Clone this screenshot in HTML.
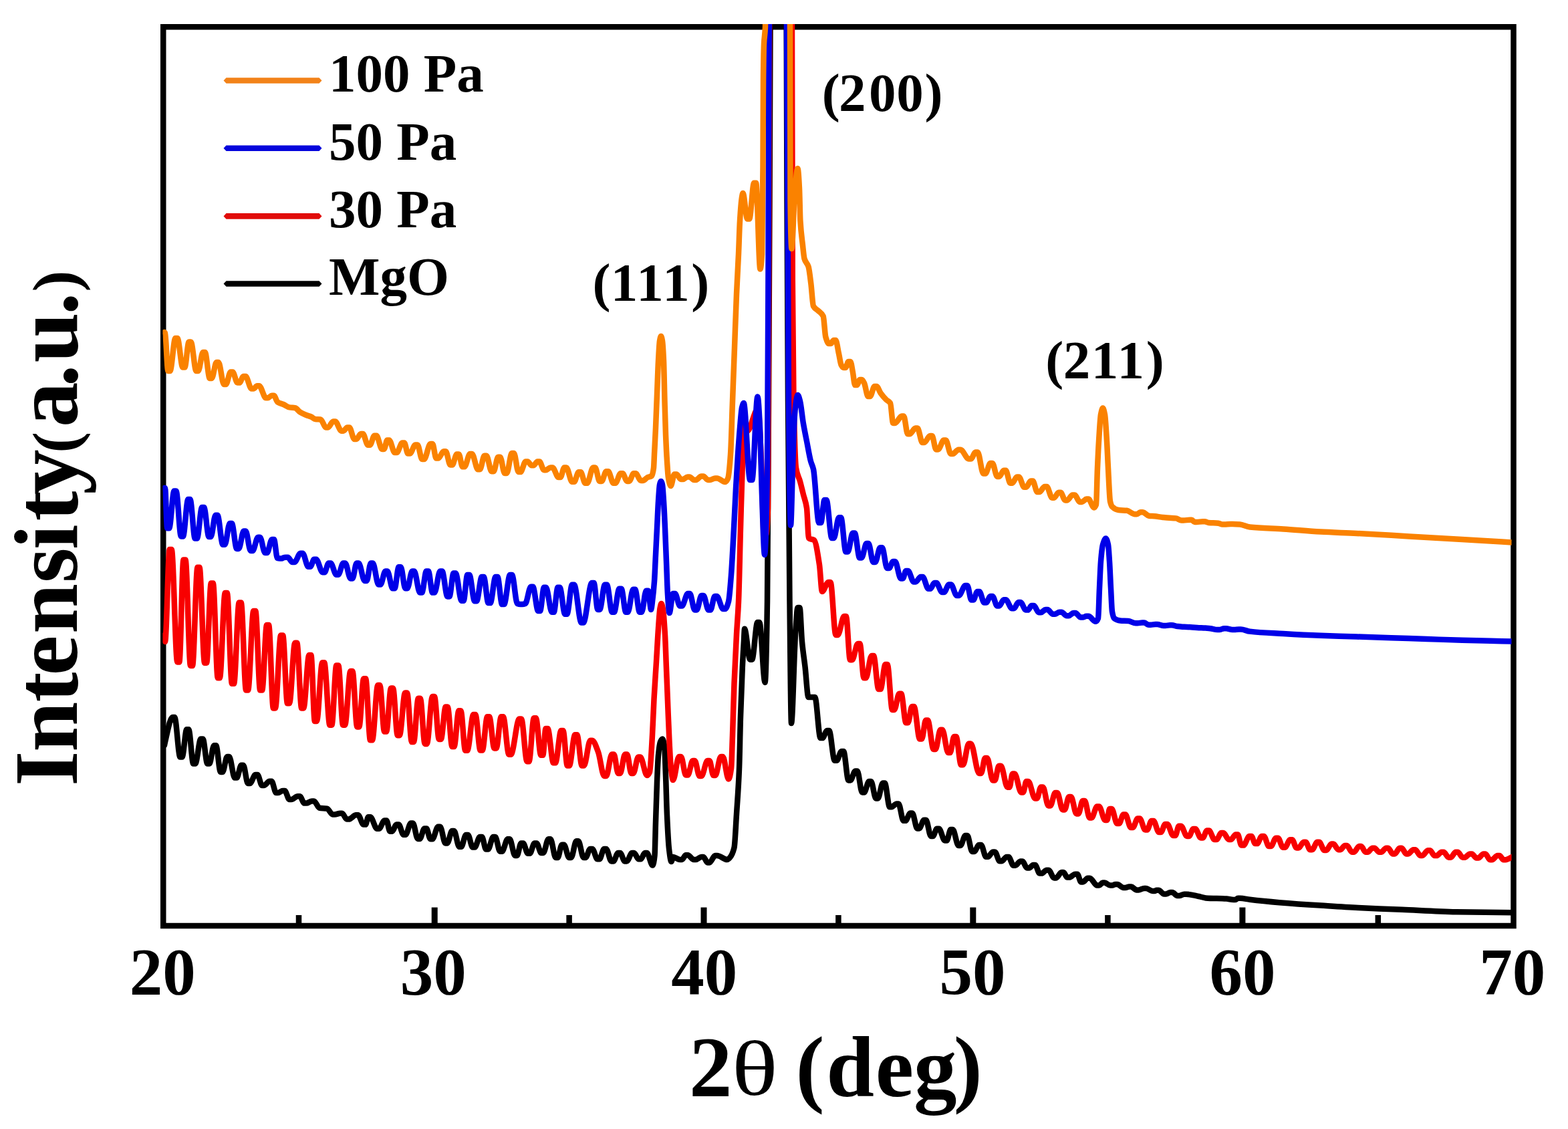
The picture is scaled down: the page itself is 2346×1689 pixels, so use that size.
<!DOCTYPE html>
<html><head><meta charset="utf-8"><title>XRD patterns</title>
<style>
html,body{margin:0;padding:0;background:#fff;overflow:hidden;}
svg{display:block;}
text{font-family:"Liberation Serif","Times New Roman",serif;font-weight:bold;fill:#000;}
</style></head><body>
<svg width="2346" height="1689" viewBox="0 0 2346 1689">
<rect x="0" y="0" width="2346" height="1689" fill="#fff"/>
<defs><clipPath id="plot"><rect x="243.5" y="36" width="2018" height="1353"/></clipPath></defs>
<rect x="244.25" y="40.25" width="2020.25" height="1344.75" fill="none" stroke="#000" stroke-width="8.5"/>
<rect x="645.7" y="1357.5" width="9" height="25" fill="#000"/>
<rect x="1048.5" y="1357.5" width="9" height="25" fill="#000"/>
<rect x="1451.3" y="1357.5" width="9" height="25" fill="#000"/>
<rect x="1854.4" y="1357.5" width="9" height="25" fill="#000"/>
<rect x="442.75" y="1369" width="8.5" height="13" fill="#000"/>
<rect x="847.35" y="1369" width="8.5" height="13" fill="#000"/>
<rect x="1250.15" y="1369" width="8.5" height="13" fill="#000"/>
<rect x="1653.15" y="1369" width="8.5" height="13" fill="#000"/>
<rect x="2057.55" y="1369" width="8.5" height="13" fill="#000"/>
<g clip-path="url(#plot)" fill="none" stroke-linejoin="round" stroke-linecap="round">
<path stroke="#000000" stroke-width="8.5" d="M246.0 1115.0 C246.3 1113.3 246.7 1111.4 247.0 1110.0 C250.7 1094.3 254.5 1073.0 258.2 1073.0 C259.2 1073.0 260.2 1073.0 261.2 1073.0 C264.0 1073.0 266.7 1132.6 269.5 1132.6 C270.5 1132.6 271.5 1132.6 272.5 1132.6 C274.8 1132.6 277.0 1091.3 279.3 1091.3 C280.3 1091.3 281.3 1091.3 282.3 1091.3 C284.6 1091.3 286.9 1142.5 289.2 1142.5 C290.2 1142.5 291.2 1142.5 292.2 1142.5 C295.0 1142.5 297.7 1105.4 300.5 1105.4 C301.5 1105.4 302.5 1105.4 303.5 1105.4 C305.8 1105.4 308.0 1142.5 310.3 1142.5 C311.3 1142.5 312.3 1142.5 313.3 1142.5 C315.6 1142.5 317.9 1115.3 320.2 1115.3 C321.2 1115.3 322.2 1115.3 323.2 1115.3 C325.5 1115.3 327.7 1155.0 330.0 1155.0 C331.0 1155.0 332.0 1155.0 333.0 1155.0 C335.3 1155.0 337.6 1132.0 339.9 1132.0 C340.9 1132.0 341.9 1132.0 342.9 1132.0 C345.7 1132.0 348.4 1163.6 351.2 1163.6 C352.2 1163.6 353.2 1163.6 354.2 1163.6 C356.5 1163.6 358.7 1144.8 361.0 1144.8 C362.0 1144.8 363.0 1144.8 364.0 1144.8 C366.3 1144.8 368.6 1172.0 370.9 1172.0 C371.9 1172.0 372.9 1172.0 373.9 1172.0 C376.7 1172.0 379.4 1159.0 382.2 1159.0 C383.2 1159.0 384.2 1159.0 385.2 1159.0 C387.5 1159.0 389.7 1174.9 392.0 1174.9 C393.0 1174.9 394.0 1174.9 395.0 1174.9 C397.8 1174.9 400.5 1168.8 403.3 1168.8 C404.3 1168.8 405.3 1168.8 406.3 1168.8 C408.6 1168.8 410.8 1186.0 413.1 1186.0 C414.1 1186.0 415.1 1186.0 416.1 1186.0 C418.4 1186.0 420.7 1182.9 423.0 1182.9 C424.0 1182.9 425.0 1182.9 426.0 1182.9 C428.3 1182.9 430.6 1196.0 432.9 1196.0 C433.9 1196.0 434.9 1196.0 435.9 1196.0 C439.1 1196.0 442.3 1191.3 445.5 1191.3 C446.5 1191.3 447.5 1191.3 448.5 1191.3 C450.8 1191.3 453.1 1201.6 455.4 1201.6 C456.4 1201.6 457.4 1201.6 458.4 1201.6 C461.2 1201.6 463.9 1198.4 466.7 1198.4 C467.7 1198.4 468.7 1198.4 469.7 1198.4 C472.5 1198.4 475.2 1208.3 478.0 1208.7 C481.8 1209.3 485.5 1209.0 489.3 1209.6 C492.1 1210.0 494.9 1218.5 497.7 1218.5 C498.7 1218.5 499.7 1218.5 500.7 1218.5 C503.4 1218.5 506.2 1216.7 508.9 1216.7 C509.9 1216.7 510.9 1216.7 511.9 1216.7 C514.2 1216.7 516.5 1225.6 518.8 1225.6 C519.8 1225.6 520.8 1225.6 521.8 1225.6 C525.4 1225.6 529.1 1219.3 532.7 1219.3 C533.7 1219.3 534.7 1219.3 535.7 1219.3 C538.4 1219.3 541.2 1233.6 543.9 1233.6 C544.9 1233.6 545.9 1233.6 546.9 1233.6 C548.3 1233.6 549.6 1222.3 551.0 1222.3 C552.0 1222.3 553.0 1222.3 554.0 1222.3 C557.4 1222.3 560.7 1239.7 564.1 1239.7 C565.1 1239.7 566.1 1239.7 567.1 1239.7 C569.8 1239.7 572.6 1227.4 575.3 1227.4 C576.3 1227.4 577.3 1227.4 578.3 1227.4 C580.0 1227.4 581.7 1243.7 583.4 1243.7 C584.4 1243.7 585.4 1243.7 586.4 1243.7 C588.8 1243.7 591.1 1233.5 593.5 1233.5 C594.5 1233.5 595.5 1233.5 596.5 1233.5 C598.9 1233.5 601.3 1248.8 603.7 1248.8 C604.7 1248.8 605.7 1248.8 606.7 1248.8 C609.4 1248.8 612.1 1231.5 614.8 1231.5 C615.8 1231.5 616.8 1231.5 617.8 1231.5 C620.2 1231.5 622.6 1254.9 625.0 1254.9 C626.0 1254.9 627.0 1254.9 628.0 1254.9 C630.4 1254.9 632.7 1239.6 635.1 1239.6 C636.1 1239.6 637.1 1239.6 638.1 1239.6 C640.0 1239.6 642.0 1255.2 643.9 1255.2 C644.9 1255.2 645.9 1255.2 646.9 1255.2 C649.8 1255.2 652.6 1236.7 655.5 1236.7 C656.5 1236.7 657.5 1236.7 658.5 1236.7 C661.1 1236.7 663.7 1261.4 666.3 1261.4 C667.3 1261.4 668.3 1261.4 669.3 1261.4 C671.6 1261.4 674.0 1242.9 676.3 1242.9 C677.3 1242.9 678.3 1242.9 679.3 1242.9 C681.9 1242.9 684.5 1266.8 687.1 1266.8 C688.1 1266.8 689.1 1266.8 690.1 1266.8 C692.4 1266.8 694.8 1249.0 697.1 1249.0 C698.1 1249.0 699.1 1249.0 700.1 1249.0 C702.5 1249.0 704.8 1267.6 707.2 1267.6 C708.2 1267.6 709.2 1267.6 710.2 1267.6 C712.8 1267.6 715.4 1252.0 718.0 1252.0 C719.0 1252.0 720.0 1252.0 721.0 1252.0 C723.1 1252.0 725.1 1270.6 727.2 1270.6 C728.2 1270.6 729.2 1270.6 730.2 1270.6 C732.8 1270.6 735.4 1252.0 738.0 1252.0 C739.0 1252.0 740.0 1252.0 741.0 1252.0 C743.4 1252.0 745.7 1273.7 748.1 1273.7 C749.1 1273.7 750.1 1273.7 751.1 1273.7 C753.9 1273.7 756.8 1255.2 759.6 1255.2 C760.6 1255.2 761.6 1255.2 762.6 1255.2 C765.2 1255.2 767.9 1279.9 770.5 1279.9 C771.5 1279.9 772.5 1279.9 773.5 1279.9 C775.6 1279.9 777.6 1261.4 779.7 1261.4 C780.7 1261.4 781.7 1261.4 782.7 1261.4 C785.0 1261.4 787.4 1276.8 789.7 1276.8 C790.7 1276.8 791.7 1276.8 792.7 1276.8 C795.1 1276.8 797.4 1261.4 799.8 1261.4 C800.8 1261.4 801.8 1261.4 802.8 1261.4 C805.1 1261.4 807.5 1276.0 809.8 1276.0 C810.8 1276.0 811.8 1276.0 812.8 1276.0 C815.4 1276.0 818.0 1255.2 820.6 1255.2 C821.6 1255.2 822.6 1255.2 823.6 1255.2 C826.2 1255.2 828.8 1283.0 831.4 1283.0 C832.4 1283.0 833.4 1283.0 834.4 1283.0 C836.5 1283.0 838.6 1263.7 840.7 1263.7 C841.7 1263.7 842.7 1263.7 843.7 1263.7 C846.3 1263.7 848.9 1283.0 851.5 1283.0 C852.5 1283.0 853.5 1283.0 854.5 1283.0 C857.1 1283.0 859.7 1258.3 862.3 1258.3 C863.3 1258.3 864.3 1258.3 865.3 1258.3 C867.9 1258.3 870.5 1283.0 873.1 1283.0 C874.1 1283.0 875.1 1283.0 876.1 1283.0 C878.4 1283.0 880.8 1269.9 883.1 1269.9 C884.1 1269.9 885.1 1269.9 886.1 1269.9 C888.7 1269.9 891.3 1285.3 893.9 1285.3 C894.9 1285.3 895.9 1285.3 896.9 1285.3 C899.2 1285.3 901.6 1269.9 903.9 1269.9 C904.9 1269.9 905.9 1269.9 906.9 1269.9 C909.5 1269.9 912.1 1288.4 914.7 1288.4 C915.7 1288.4 916.7 1288.4 917.7 1288.4 C920.1 1288.4 922.4 1276.1 924.8 1276.1 C925.8 1276.1 926.8 1276.1 927.8 1276.1 C930.1 1276.1 932.5 1288.4 934.8 1288.4 C935.8 1288.4 936.8 1288.4 937.8 1288.4 C940.4 1288.4 943.0 1276.1 945.6 1276.1 C946.6 1276.1 947.6 1276.1 948.6 1276.1 C950.9 1276.1 953.3 1285.3 955.6 1285.3 C956.6 1285.3 957.6 1285.3 958.6 1285.3 C960.7 1285.3 962.8 1276.1 964.9 1276.1 C965.9 1276.1 966.9 1276.1 967.9 1276.1 C970.7 1276.1 973.6 1294.6 976.4 1294.6 C977.4 1294.6 978.5 1289.3 979.5 1280.0 C980.0 1275.5 980.5 1245.8 981.0 1230.0 C981.7 1208.9 982.3 1186.0 983.0 1170.0 C983.7 1154.0 984.3 1136.9 985.0 1130.0 C986.0 1119.7 987.0 1112.4 988.0 1110.0 C989.0 1107.6 990.0 1105.6 991.0 1105.6 C992.0 1105.6 993.0 1109.2 994.0 1115.0 C994.7 1118.9 995.3 1142.9 996.0 1160.0 C996.7 1177.1 997.3 1205.4 998.0 1220.0 C999.0 1241.8 1000.0 1261.5 1001.0 1270.0 C1002.1 1279.6 1003.3 1289.0 1004.4 1289.0 C1005.3 1289.0 1006.1 1282.0 1007.0 1282.0 C1010.4 1282.0 1013.9 1286.0 1017.3 1286.0 C1018.3 1286.0 1019.3 1286.0 1020.3 1286.0 C1022.2 1286.0 1024.2 1279.3 1026.1 1279.3 C1027.1 1279.3 1028.1 1279.3 1029.1 1279.3 C1032.0 1279.3 1035.0 1286.0 1037.9 1286.0 C1038.9 1286.0 1039.9 1286.0 1040.9 1286.0 C1043.8 1286.0 1046.6 1282.0 1049.5 1282.0 C1050.5 1282.0 1051.5 1282.0 1052.5 1282.0 C1054.5 1282.0 1056.5 1290.4 1058.5 1290.4 C1059.5 1290.4 1060.5 1290.4 1061.5 1290.4 C1064.3 1290.4 1067.2 1280.0 1070.0 1280.0 C1071.0 1280.0 1072.0 1280.0 1073.0 1280.0 C1078.0 1280.0 1083.0 1286.0 1088.0 1286.0 C1089.3 1286.0 1090.7 1284.5 1092.0 1283.0 C1094.2 1280.6 1096.3 1277.3 1098.5 1268.0 C1099.7 1263.0 1100.8 1236.1 1102.0 1218.0 C1103.3 1197.3 1104.7 1183.0 1106.0 1150.0 C1106.7 1133.5 1107.3 1093.2 1108.0 1072.0 C1108.9 1042.3 1109.9 1018.0 1110.8 998.0 C1111.5 982.3 1112.3 970.9 1113.0 958.0 C1113.3 952.1 1113.7 940.8 1114.0 940.8 C1116.7 940.8 1119.5 986.7 1122.2 986.7 C1123.2 986.7 1124.2 986.7 1125.2 986.7 C1127.9 986.7 1130.6 931.0 1133.3 931.0 C1134.3 931.0 1135.3 931.0 1136.3 931.0 C1139.1 931.0 1141.8 1021.0 1144.6 1021.0 C1145.7 1021.0 1146.9 968.9 1148.0 900.0 C1148.7 859.5 1149.3 715.1 1150.0 600.0 C1150.5 513.7 1151.0 414.0 1151.5 300.0 C1151.8 224.0 1152.2 114.3 1152.5 40.0 C1152.7 2.9 1152.8 -60.0 1153.0 -60.0 C1160.8 -60.0 1168.7 -60.0 1176.5 -60.0 C1176.6 -60.0 1176.6 12.6 1176.7 40.0 C1177.0 149.7 1177.2 232.3 1177.5 300.0 C1178.0 426.9 1178.5 523.4 1179.0 600.0 C1179.8 727.7 1180.7 824.5 1181.5 900.0 C1182.3 975.5 1183.2 1082.0 1184.0 1082.0 C1186.0 1082.0 1188.0 979.8 1190.0 950.0 C1191.2 932.6 1192.3 909.0 1193.5 909.0 C1194.5 909.0 1195.5 909.0 1196.5 909.0 C1197.7 909.0 1198.8 947.5 1200.0 960.0 C1201.5 976.4 1203.1 984.7 1204.6 998.0 C1206.2 1012.2 1207.9 1043.0 1209.5 1043.0 C1212.8 1043.0 1216.0 1043.0 1219.3 1043.0 C1222.0 1043.0 1224.8 1104.0 1227.5 1104.0 C1228.5 1104.0 1229.5 1104.0 1230.5 1104.0 C1232.8 1104.0 1235.2 1093.0 1237.5 1093.0 C1238.5 1093.0 1239.5 1093.0 1240.5 1093.0 C1243.3 1093.0 1246.0 1137.8 1248.8 1137.8 C1249.8 1137.8 1250.8 1137.8 1251.8 1137.8 C1254.2 1137.8 1256.7 1124.0 1259.1 1124.0 C1260.1 1124.0 1261.1 1124.0 1262.1 1124.0 C1264.5 1124.0 1267.0 1167.4 1269.4 1167.4 C1270.4 1167.4 1271.4 1167.4 1272.4 1167.4 C1274.8 1167.4 1277.3 1153.5 1279.7 1153.5 C1280.7 1153.5 1281.7 1153.5 1282.7 1153.5 C1285.1 1153.5 1287.5 1185.4 1289.9 1185.4 C1290.9 1185.4 1291.9 1185.4 1292.9 1185.4 C1295.3 1185.4 1297.8 1169.0 1300.2 1169.0 C1301.2 1169.0 1302.2 1169.0 1303.2 1169.0 C1305.6 1169.0 1308.1 1194.4 1310.5 1194.4 C1311.5 1194.4 1312.5 1194.4 1313.5 1194.4 C1315.9 1194.4 1318.4 1171.5 1320.8 1171.5 C1321.8 1171.5 1322.8 1171.5 1323.8 1171.5 C1326.2 1171.5 1328.7 1207.3 1331.1 1207.3 C1332.1 1207.3 1333.1 1207.3 1334.1 1207.3 C1336.5 1207.3 1339.0 1202.4 1341.4 1202.4 C1342.4 1202.4 1343.4 1202.4 1344.4 1202.4 C1346.8 1202.4 1349.3 1227.8 1351.7 1227.8 C1352.7 1227.8 1353.7 1227.8 1354.7 1227.8 C1357.1 1227.8 1359.6 1216.5 1362.0 1216.5 C1363.0 1216.5 1364.0 1216.5 1365.0 1216.5 C1367.4 1216.5 1369.9 1239.4 1372.3 1239.4 C1373.3 1239.4 1374.3 1239.4 1375.3 1239.4 C1377.7 1239.4 1380.1 1226.8 1382.5 1226.8 C1383.5 1226.8 1384.5 1226.8 1385.5 1226.8 C1387.9 1226.8 1390.4 1251.0 1392.8 1251.0 C1393.8 1251.0 1394.8 1251.0 1395.8 1251.0 C1397.8 1251.0 1399.8 1239.7 1401.8 1239.7 C1402.8 1239.7 1403.8 1239.7 1404.8 1239.7 C1407.7 1239.7 1410.6 1257.4 1413.5 1257.4 C1414.5 1257.4 1415.5 1257.4 1416.5 1257.4 C1418.5 1257.4 1420.5 1241.0 1422.5 1241.0 C1423.5 1241.0 1424.5 1241.0 1425.5 1241.0 C1428.3 1241.0 1431.2 1265.0 1434.0 1265.0 C1435.0 1265.0 1436.0 1265.0 1437.0 1265.0 C1439.4 1265.0 1441.9 1250.0 1444.3 1250.0 C1445.3 1250.0 1446.3 1250.0 1447.3 1250.0 C1449.7 1250.0 1452.1 1274.0 1454.5 1274.0 C1455.5 1274.0 1456.5 1274.0 1457.5 1274.0 C1460.0 1274.0 1462.4 1264.0 1464.9 1264.0 C1465.9 1264.0 1466.9 1264.0 1467.9 1264.0 C1470.3 1264.0 1472.8 1281.8 1475.2 1281.8 C1476.2 1281.8 1477.2 1281.8 1478.2 1281.8 C1480.6 1281.8 1483.1 1274.4 1485.5 1274.4 C1486.5 1274.4 1487.5 1274.4 1488.5 1274.4 C1490.9 1274.4 1493.3 1288.3 1495.7 1288.3 C1496.7 1288.3 1497.7 1288.3 1498.7 1288.3 C1501.1 1288.3 1503.6 1282.0 1506.0 1282.0 C1507.0 1282.0 1508.0 1282.0 1509.0 1282.0 C1511.4 1282.0 1513.9 1294.7 1516.3 1294.7 C1517.3 1294.7 1518.3 1294.7 1519.3 1294.7 C1521.7 1294.7 1524.1 1288.6 1526.5 1288.6 C1527.5 1288.6 1528.5 1288.6 1529.5 1288.6 C1532.0 1288.6 1534.4 1298.6 1536.9 1298.6 C1537.9 1298.6 1538.9 1298.6 1539.9 1298.6 C1541.8 1298.6 1543.8 1294.0 1545.7 1294.0 C1546.7 1294.0 1547.7 1294.0 1548.7 1294.0 C1551.0 1294.0 1553.2 1306.6 1555.5 1306.6 C1556.5 1306.6 1557.5 1306.6 1558.5 1306.6 C1561.0 1306.6 1563.4 1301.7 1565.9 1301.7 C1566.9 1301.7 1567.9 1301.7 1568.9 1301.7 C1571.6 1301.7 1574.4 1313.4 1577.1 1313.4 C1578.1 1313.4 1579.1 1313.4 1580.1 1313.4 C1582.8 1313.4 1585.5 1305.0 1588.2 1305.0 C1589.2 1305.0 1590.2 1305.0 1591.2 1305.0 C1593.1 1305.0 1594.9 1312.6 1596.8 1312.6 C1597.8 1312.6 1598.8 1312.6 1599.8 1312.6 C1602.8 1312.6 1605.8 1307.7 1608.8 1307.7 C1609.8 1307.7 1610.8 1307.7 1611.8 1307.7 C1613.7 1307.7 1615.5 1319.4 1617.4 1319.4 C1618.4 1319.4 1619.4 1319.4 1620.4 1319.4 C1622.8 1319.4 1625.1 1313.7 1627.5 1313.7 C1628.5 1313.7 1629.5 1313.7 1630.5 1313.7 C1634.1 1313.7 1637.8 1324.6 1641.4 1324.6 C1642.4 1324.6 1643.4 1324.6 1644.4 1324.6 C1646.2 1324.6 1648.1 1320.6 1649.9 1320.6 C1650.9 1320.6 1651.9 1320.6 1652.9 1320.6 C1655.6 1320.6 1658.4 1324.6 1661.1 1324.6 C1662.1 1324.6 1663.1 1324.6 1664.1 1324.6 C1665.7 1324.6 1667.2 1323.0 1668.8 1323.0 C1669.8 1323.0 1670.8 1323.0 1671.8 1323.0 C1674.8 1323.0 1677.8 1328.0 1680.8 1328.0 C1681.8 1328.0 1682.8 1328.0 1683.8 1328.0 C1685.7 1328.0 1687.5 1326.6 1689.4 1326.6 C1690.4 1326.6 1691.4 1326.6 1692.4 1326.6 C1695.1 1326.6 1697.8 1331.4 1700.5 1331.4 C1701.5 1331.4 1702.5 1331.4 1703.5 1331.4 C1706.2 1331.4 1709.0 1329.0 1711.7 1329.0 C1712.7 1329.0 1713.7 1329.0 1714.7 1329.0 C1718.0 1329.0 1721.2 1333.0 1724.5 1333.0 C1725.5 1333.0 1726.5 1333.0 1727.5 1333.0 C1728.5 1333.0 1729.5 1331.7 1730.5 1331.7 C1731.5 1331.7 1732.5 1331.7 1733.5 1331.7 C1736.2 1331.7 1738.9 1337.4 1741.6 1337.4 C1742.6 1337.4 1743.6 1337.4 1744.6 1337.4 C1746.8 1337.4 1748.9 1335.0 1751.1 1335.0 C1752.1 1335.0 1753.1 1335.0 1754.1 1335.0 C1756.5 1335.0 1759.0 1340.0 1761.4 1340.0 C1762.4 1340.0 1763.4 1340.0 1764.4 1340.0 C1766.8 1340.0 1769.3 1337.7 1771.7 1337.7 C1772.7 1337.7 1773.7 1337.7 1774.7 1337.7 C1781.0 1337.7 1787.4 1339.7 1793.7 1341.0 C1797.1 1341.7 1800.6 1343.1 1804.0 1343.4 C1814.3 1344.2 1824.6 1343.9 1834.9 1344.6 C1838.4 1344.8 1841.9 1346.0 1845.4 1346.0 C1846.4 1346.0 1847.4 1346.0 1848.4 1346.0 C1849.7 1346.0 1850.9 1343.7 1852.2 1343.7 C1853.2 1343.7 1854.2 1343.7 1855.2 1343.7 C1860.1 1343.7 1865.1 1345.2 1870.0 1345.8 C1884.7 1347.6 1899.3 1349.0 1914.0 1350.2 C1934.6 1351.9 1955.2 1353.3 1975.8 1354.6 C1994.6 1355.8 2013.5 1357.1 2032.3 1358.0 C2054.0 1359.1 2075.8 1359.9 2097.5 1360.8 C2124.5 1362.0 2151.6 1363.8 2178.6 1364.3 C2207.1 1364.8 2235.5 1364.9 2264.0 1365.2"/>
<path stroke="#F80000" stroke-width="8.5" d="M246.0 950.0 C246.3 953.3 246.7 960.0 247.0 960.0 C249.2 960.0 251.5 822.0 253.7 822.0 C254.7 822.0 255.7 822.0 256.7 822.0 C259.6 822.0 262.4 990.4 265.3 990.4 C266.3 990.4 267.3 990.4 268.3 990.4 C270.4 990.4 272.4 837.5 274.5 837.5 C275.5 837.5 276.5 837.5 277.5 837.5 C280.0 837.5 282.5 996.0 285.0 996.0 C286.0 996.0 287.0 996.0 288.0 996.0 C290.5 996.0 293.0 848.8 295.5 848.8 C296.5 848.8 297.5 848.8 298.5 848.8 C301.0 848.8 303.6 991.8 306.1 991.8 C307.1 991.8 308.1 991.8 309.1 991.8 C311.3 991.8 313.6 872.5 315.8 872.5 C316.8 872.5 317.8 872.5 318.8 872.5 C321.1 872.5 323.5 1014.3 325.8 1014.3 C326.8 1014.3 327.8 1014.3 328.8 1014.3 C331.5 1014.3 334.1 887.0 336.8 887.0 C337.8 887.0 338.8 887.0 339.8 887.0 C342.2 887.0 344.6 1022.8 347.0 1022.8 C348.0 1022.8 349.0 1022.8 350.0 1022.8 C352.6 1022.8 355.1 901.5 357.7 901.5 C358.7 901.5 359.7 901.5 360.7 901.5 C363.2 901.5 365.6 1032.6 368.1 1032.6 C369.1 1032.6 370.1 1032.6 371.1 1032.6 C373.8 1032.6 376.6 913.9 379.3 913.9 C380.3 913.9 381.3 913.9 382.3 913.9 C384.6 913.9 386.9 1032.6 389.2 1032.6 C390.2 1032.6 391.2 1032.6 392.2 1032.6 C394.5 1032.6 396.8 935.0 399.1 935.0 C400.1 935.0 401.1 935.0 402.1 935.0 C404.4 935.0 406.6 1059.4 408.9 1059.4 C409.9 1059.4 410.9 1059.4 411.9 1059.4 C414.7 1059.4 417.4 950.5 420.2 950.5 C421.2 950.5 422.2 950.5 423.2 950.5 C425.5 950.5 427.7 1052.3 430.0 1052.3 C431.0 1052.3 432.0 1052.3 433.0 1052.3 C435.8 1052.3 438.5 961.7 441.3 961.7 C442.3 961.7 443.3 961.7 444.3 961.7 C446.6 961.7 448.9 1059.4 451.2 1059.4 C452.2 1059.4 453.2 1059.4 454.2 1059.4 C456.9 1059.4 459.7 980.0 462.4 980.0 C463.4 980.0 464.4 980.0 465.4 980.0 C467.2 980.0 469.1 1079.0 470.9 1079.0 C471.9 1079.0 472.9 1079.0 473.9 1079.0 C476.7 1079.0 479.4 991.3 482.2 991.3 C483.2 991.3 484.2 991.3 485.2 991.3 C487.9 991.3 490.7 1084.7 493.4 1084.7 C494.4 1084.7 495.4 1084.7 496.4 1084.7 C498.7 1084.7 501.0 995.5 503.3 995.5 C504.3 995.5 505.3 995.5 506.3 995.5 C508.6 995.5 510.8 1084.7 513.1 1084.7 C514.1 1084.7 515.1 1084.7 516.1 1084.7 C518.9 1084.7 521.6 1004.0 524.4 1004.0 C525.4 1004.0 526.4 1004.0 527.4 1004.0 C529.7 1004.0 532.0 1087.5 534.3 1087.5 C535.3 1087.5 536.3 1087.5 537.3 1087.5 C539.6 1087.5 541.8 1015.3 544.1 1015.3 C545.1 1015.3 546.1 1015.3 547.1 1015.3 C549.4 1015.3 551.7 1107.3 554.0 1107.3 C555.0 1107.3 556.0 1107.3 557.0 1107.3 C559.8 1107.3 562.5 1025.0 565.3 1025.0 C566.3 1025.0 567.3 1025.0 568.3 1025.0 C570.6 1025.0 572.8 1094.6 575.1 1094.6 C576.1 1094.6 577.1 1094.6 578.1 1094.6 C580.4 1094.6 582.7 1029.4 585.0 1029.4 C586.0 1029.4 587.0 1029.4 588.0 1029.4 C590.3 1029.4 592.5 1100.2 594.8 1100.2 C595.8 1100.2 596.8 1100.2 597.8 1100.2 C600.6 1100.2 603.3 1036.4 606.1 1036.4 C607.1 1036.4 608.1 1036.4 609.1 1036.4 C611.4 1036.4 613.7 1110.0 616.0 1110.0 C617.0 1110.0 618.0 1110.0 619.0 1110.0 C621.3 1110.0 623.5 1044.8 625.8 1044.8 C626.8 1044.8 627.8 1044.8 628.8 1044.8 C631.1 1044.8 633.4 1112.9 635.7 1112.9 C636.7 1112.9 637.7 1112.9 638.7 1112.9 C641.5 1112.9 644.2 1042.0 647.0 1042.0 C648.0 1042.0 649.0 1042.0 650.0 1042.0 C652.3 1042.0 654.5 1105.9 656.8 1105.9 C657.8 1105.9 658.8 1105.9 659.8 1105.9 C662.1 1105.9 664.4 1057.5 666.7 1057.5 C667.7 1057.5 668.7 1057.5 669.7 1057.5 C672.0 1057.5 674.2 1117.0 676.5 1117.0 C677.5 1117.0 678.5 1117.0 679.5 1117.0 C681.8 1117.0 684.1 1063.2 686.4 1063.2 C687.4 1063.2 688.4 1063.2 689.4 1063.2 C691.7 1063.2 693.9 1122.8 696.2 1122.8 C697.2 1122.8 698.2 1122.8 699.2 1122.8 C702.2 1122.8 705.3 1069.0 708.3 1069.0 C709.3 1069.0 710.3 1069.0 711.3 1069.0 C713.8 1069.0 716.2 1122.6 718.7 1122.6 C719.7 1122.6 720.7 1122.6 721.7 1122.6 C724.2 1122.6 726.6 1072.3 729.1 1072.3 C730.1 1072.3 731.1 1072.3 732.1 1072.3 C734.6 1072.3 737.0 1119.4 739.5 1119.4 C740.5 1119.4 741.5 1119.4 742.5 1119.4 C745.0 1119.4 747.4 1072.3 749.9 1072.3 C750.9 1072.3 751.9 1072.3 752.9 1072.3 C755.7 1072.3 758.6 1128.8 761.4 1128.8 C762.4 1128.8 763.4 1128.8 764.4 1128.8 C768.6 1128.8 772.8 1075.4 777.0 1075.4 C778.0 1075.4 779.0 1075.4 780.0 1075.4 C782.8 1075.4 785.7 1139.2 788.5 1139.2 C789.5 1139.2 790.5 1139.2 791.5 1139.2 C793.9 1139.2 796.4 1074.3 798.8 1074.3 C799.8 1074.3 800.8 1074.3 801.8 1074.3 C804.3 1074.3 806.8 1129.8 809.3 1129.8 C810.3 1129.8 811.3 1129.8 812.3 1129.8 C813.7 1129.8 815.1 1090.0 816.5 1090.0 C817.5 1090.0 818.5 1090.0 819.5 1090.0 C822.3 1090.0 825.2 1141.3 828.0 1141.3 C829.0 1141.3 830.0 1141.3 831.0 1141.3 C833.8 1141.3 836.7 1093.0 839.5 1093.0 C840.5 1093.0 841.5 1093.0 842.5 1093.0 C844.6 1093.0 846.7 1145.5 848.8 1145.5 C849.8 1145.5 850.8 1145.5 851.8 1145.5 C854.6 1145.5 857.5 1099.3 860.3 1099.3 C861.3 1099.3 862.3 1099.3 863.3 1099.3 C865.8 1099.3 868.2 1145.5 870.7 1145.5 C871.7 1145.5 872.7 1145.5 873.7 1145.5 C876.9 1145.5 880.0 1107.7 883.2 1107.7 C884.2 1107.7 885.2 1107.7 886.2 1107.7 C889.1 1107.7 892.1 1117.3 895.0 1125.0 C898.0 1132.9 901.0 1161.0 904.0 1161.0 C905.0 1161.0 906.0 1161.0 907.0 1161.0 C909.8 1161.0 912.7 1128.5 915.5 1128.5 C916.5 1128.5 917.5 1128.5 918.5 1128.5 C920.6 1128.5 922.7 1157.0 924.8 1157.0 C925.8 1157.0 926.8 1157.0 927.8 1157.0 C930.3 1157.0 932.7 1128.5 935.2 1128.5 C936.2 1128.5 937.2 1128.5 938.2 1128.5 C940.3 1128.5 942.4 1157.0 944.5 1157.0 C945.5 1157.0 946.5 1157.0 947.5 1157.0 C950.0 1157.0 952.5 1132.6 955.0 1132.6 C956.0 1132.6 957.0 1132.6 958.0 1132.6 C961.3 1132.6 964.7 1160.0 968.0 1160.0 C969.3 1160.0 970.7 1158.1 972.0 1155.0 C973.3 1151.9 974.7 1122.8 976.0 1100.0 C976.8 1085.8 977.7 1061.4 978.5 1046.0 C979.7 1024.4 980.8 1009.1 982.0 990.0 C983.0 973.7 984.0 953.9 985.0 940.0 C985.8 928.4 986.7 914.4 987.5 910.0 C988.2 906.5 988.8 903.0 989.5 903.0 C990.3 903.0 991.2 907.4 992.0 912.0 C993.0 917.5 994.0 932.8 995.0 950.0 C995.7 961.5 996.3 983.3 997.0 1000.0 C997.7 1016.7 998.3 1033.7 999.0 1050.0 C999.8 1070.4 1000.7 1094.0 1001.5 1110.0 C1002.3 1126.0 1003.2 1142.9 1004.0 1150.0 C1005.0 1158.5 1006.0 1167.0 1007.0 1167.0 C1010.0 1167.0 1012.9 1132.0 1015.9 1132.0 C1016.9 1132.0 1017.9 1132.0 1018.9 1132.0 C1021.3 1132.0 1023.7 1159.5 1026.1 1159.5 C1027.1 1159.5 1028.1 1159.5 1029.1 1159.5 C1031.6 1159.5 1034.0 1138.0 1036.5 1138.0 C1037.5 1138.0 1038.5 1138.0 1039.5 1138.0 C1041.8 1138.0 1044.2 1161.0 1046.5 1161.0 C1047.5 1161.0 1048.5 1161.0 1049.5 1161.0 C1052.5 1161.0 1055.5 1138.0 1058.5 1138.0 C1059.5 1138.0 1060.5 1138.0 1061.5 1138.0 C1063.4 1138.0 1065.4 1160.0 1067.3 1160.0 C1068.3 1160.0 1069.3 1160.0 1070.3 1160.0 C1073.0 1160.0 1075.8 1132.0 1078.5 1132.0 C1079.5 1132.0 1080.5 1132.0 1081.5 1132.0 C1084.3 1132.0 1087.2 1165.5 1090.0 1165.5 C1091.3 1165.5 1092.7 1159.7 1094.0 1150.0 C1094.7 1145.1 1095.3 1118.4 1096.0 1100.0 C1096.8 1077.0 1097.7 1043.1 1098.5 1022.0 C1099.7 992.5 1100.8 970.3 1102.0 949.0 C1103.0 930.7 1104.0 922.6 1105.0 900.0 C1106.0 877.4 1107.0 824.9 1108.0 790.0 C1109.0 755.1 1110.0 713.7 1111.0 690.0 C1112.0 666.3 1113.0 635.0 1114.0 635.0 C1115.3 635.0 1116.7 645.0 1118.0 645.0 C1119.3 645.0 1120.7 642.3 1122.0 640.0 C1123.7 637.1 1125.3 629.2 1127.0 625.0 C1128.5 621.2 1130.0 615.0 1131.5 615.0 C1132.5 615.0 1133.5 615.0 1134.5 615.0 C1136.0 615.0 1137.5 658.7 1139.0 690.0 C1140.3 717.8 1141.7 800.0 1143.0 800.0 C1144.0 800.0 1145.0 800.0 1146.0 800.0 C1147.0 800.0 1148.0 788.5 1149.0 760.0 C1149.5 745.8 1150.0 466.5 1150.5 300.0 C1150.8 189.0 1151.2 -60.0 1151.5 -60.0 C1162.5 -60.0 1173.5 -60.0 1184.5 -60.0 C1184.7 -60.0 1184.8 -5.5 1185.0 40.0 C1185.3 112.8 1185.5 370.0 1185.8 420.0 C1186.4 526.2 1186.9 572.7 1187.5 600.0 C1188.7 656.2 1189.8 692.5 1191.0 700.0 C1193.0 712.8 1195.0 712.7 1197.0 720.0 C1198.7 726.1 1200.3 733.3 1202.0 740.0 C1203.7 746.7 1205.3 748.9 1207.0 760.0 C1208.0 766.6 1209.0 804.1 1210.0 805.0 C1212.7 807.3 1215.3 806.1 1218.0 808.0 C1220.7 809.9 1223.3 827.4 1226.0 845.0 C1227.3 853.8 1228.7 885.0 1230.0 885.0 C1233.2 885.0 1236.3 871.0 1239.5 871.0 C1240.5 871.0 1241.5 871.0 1242.5 871.0 C1245.2 871.0 1247.8 950.0 1250.5 950.0 C1251.5 950.0 1252.5 950.0 1253.5 950.0 C1256.6 950.0 1259.8 922.0 1262.9 922.0 C1263.9 922.0 1264.9 922.0 1265.9 922.0 C1267.9 922.0 1269.9 987.3 1271.9 987.3 C1272.9 987.3 1273.9 987.3 1274.9 987.3 C1277.8 987.3 1280.6 963.0 1283.5 963.0 C1284.5 963.0 1285.5 963.0 1286.5 963.0 C1288.5 963.0 1290.5 1014.3 1292.5 1014.3 C1293.5 1014.3 1294.5 1014.3 1295.5 1014.3 C1298.4 1014.3 1301.2 981.0 1304.1 981.0 C1305.1 981.0 1306.1 981.0 1307.1 981.0 C1309.5 981.0 1312.0 1031.0 1314.4 1031.0 C1315.4 1031.0 1316.4 1031.0 1317.4 1031.0 C1319.8 1031.0 1322.3 994.0 1324.7 994.0 C1325.7 994.0 1326.7 994.0 1327.7 994.0 C1330.1 994.0 1332.6 1062.0 1335.0 1062.0 C1336.0 1062.0 1337.0 1062.0 1338.0 1062.0 C1340.4 1062.0 1342.9 1037.8 1345.3 1037.8 C1346.3 1037.8 1347.3 1037.8 1348.3 1037.8 C1350.7 1037.8 1353.1 1081.2 1355.5 1081.2 C1356.5 1081.2 1357.5 1081.2 1358.5 1081.2 C1360.5 1081.2 1362.5 1057.0 1364.5 1057.0 C1365.5 1057.0 1366.5 1057.0 1367.5 1057.0 C1370.4 1057.0 1373.2 1105.6 1376.1 1105.6 C1377.1 1105.6 1378.1 1105.6 1379.1 1105.6 C1381.1 1105.6 1383.1 1077.6 1385.1 1077.6 C1386.1 1077.6 1387.1 1077.6 1388.1 1077.6 C1391.0 1077.6 1393.8 1121.0 1396.7 1121.0 C1397.7 1121.0 1398.7 1121.0 1399.7 1121.0 C1402.1 1121.0 1404.6 1091.8 1407.0 1091.8 C1408.0 1091.8 1409.0 1091.8 1410.0 1091.8 C1412.8 1091.8 1415.7 1126.0 1418.5 1126.0 C1419.5 1126.0 1420.5 1126.0 1421.5 1126.0 C1423.5 1126.0 1425.5 1102.0 1427.5 1102.0 C1428.5 1102.0 1429.5 1102.0 1430.5 1102.0 C1433.0 1102.0 1435.4 1144.2 1437.9 1144.2 C1438.9 1144.2 1439.9 1144.2 1440.9 1144.2 C1443.8 1144.2 1446.6 1112.4 1449.5 1112.4 C1450.5 1112.4 1451.5 1112.4 1452.5 1112.4 C1456.6 1112.4 1460.8 1157.0 1464.9 1157.0 C1465.9 1157.0 1466.9 1157.0 1467.9 1157.0 C1469.9 1157.0 1471.9 1134.0 1473.9 1134.0 C1474.9 1134.0 1475.9 1134.0 1476.9 1134.0 C1479.8 1134.0 1482.6 1167.4 1485.5 1167.4 C1486.5 1167.4 1487.5 1167.4 1488.5 1167.4 C1490.5 1167.4 1492.5 1145.8 1494.5 1145.8 C1495.5 1145.8 1496.5 1145.8 1497.5 1145.8 C1500.8 1145.8 1504.0 1177.7 1507.3 1177.7 C1508.3 1177.7 1509.3 1177.7 1510.3 1177.7 C1511.9 1177.7 1513.4 1157.4 1515.0 1157.4 C1516.0 1157.4 1517.0 1157.4 1518.0 1157.4 C1521.3 1157.4 1524.6 1185.4 1527.9 1185.4 C1528.9 1185.4 1529.9 1185.4 1530.9 1185.4 C1532.4 1185.4 1534.0 1169.0 1535.5 1169.0 C1536.5 1169.0 1537.5 1169.0 1538.5 1169.0 C1541.8 1169.0 1545.2 1194.4 1548.5 1194.4 C1549.5 1194.4 1550.5 1194.4 1551.5 1194.4 C1553.5 1194.4 1555.4 1177.4 1557.4 1177.4 C1558.4 1177.4 1559.4 1177.4 1560.4 1177.4 C1563.1 1177.4 1565.8 1205.4 1568.5 1205.4 C1569.5 1205.4 1570.5 1205.4 1571.5 1205.4 C1573.9 1205.4 1576.4 1186.0 1578.8 1186.0 C1579.8 1186.0 1580.8 1186.0 1581.8 1186.0 C1584.5 1186.0 1587.2 1211.4 1589.9 1211.4 C1590.9 1211.4 1591.9 1211.4 1592.9 1211.4 C1595.1 1211.4 1597.2 1192.0 1599.4 1192.0 C1600.4 1192.0 1601.4 1192.0 1602.4 1192.0 C1605.1 1192.0 1607.8 1217.4 1610.5 1217.4 C1611.5 1217.4 1612.5 1217.4 1613.5 1217.4 C1615.6 1217.4 1617.8 1198.0 1619.9 1198.0 C1620.9 1198.0 1621.9 1198.0 1622.9 1198.0 C1625.3 1198.0 1627.8 1223.4 1630.2 1223.4 C1631.2 1223.4 1632.2 1223.4 1633.2 1223.4 C1635.9 1223.4 1638.7 1206.6 1641.4 1206.6 C1642.4 1206.6 1643.4 1206.6 1644.4 1206.6 C1647.4 1206.6 1650.4 1226.9 1653.4 1226.9 C1654.4 1226.9 1655.4 1226.9 1656.4 1226.9 C1657.7 1226.9 1658.9 1210.0 1660.2 1210.0 C1661.2 1210.0 1662.2 1210.0 1663.2 1210.0 C1665.9 1210.0 1668.7 1232.0 1671.4 1232.0 C1672.4 1232.0 1673.4 1232.0 1674.4 1232.0 C1676.5 1232.0 1678.7 1218.6 1680.8 1218.6 C1681.8 1218.6 1682.8 1218.6 1683.8 1218.6 C1686.5 1218.6 1689.2 1238.0 1691.9 1238.0 C1692.9 1238.0 1693.9 1238.0 1694.9 1238.0 C1697.3 1238.0 1699.8 1224.6 1702.2 1224.6 C1703.2 1224.6 1704.2 1224.6 1705.2 1224.6 C1707.9 1224.6 1710.7 1241.4 1713.4 1241.4 C1714.4 1241.4 1715.4 1241.4 1716.4 1241.4 C1718.5 1241.4 1720.7 1228.0 1722.8 1228.0 C1723.8 1228.0 1724.8 1228.0 1725.8 1228.0 C1728.5 1228.0 1731.2 1244.9 1733.9 1244.9 C1734.9 1244.9 1735.9 1244.9 1736.9 1244.9 C1739.1 1244.9 1741.2 1233.0 1743.4 1233.0 C1744.4 1233.0 1745.4 1233.0 1746.4 1233.0 C1749.4 1233.0 1752.4 1250.0 1755.4 1250.0 C1756.4 1250.0 1757.4 1250.0 1758.4 1250.0 C1760.2 1250.0 1762.1 1235.7 1763.9 1235.7 C1764.9 1235.7 1765.9 1235.7 1766.9 1235.7 C1769.9 1235.7 1772.9 1250.9 1775.9 1250.9 C1776.9 1250.9 1777.9 1250.9 1778.9 1250.9 C1781.1 1250.9 1783.2 1240.0 1785.4 1240.0 C1786.4 1240.0 1787.4 1240.0 1788.4 1240.0 C1791.1 1240.0 1793.8 1253.4 1796.5 1253.4 C1797.5 1253.4 1798.5 1253.4 1799.5 1253.4 C1801.6 1253.4 1803.8 1242.6 1805.9 1242.6 C1806.9 1242.6 1807.9 1242.6 1808.9 1242.6 C1811.6 1242.6 1814.4 1256.0 1817.1 1256.0 C1818.1 1256.0 1819.1 1256.0 1820.1 1256.0 C1822.5 1256.0 1825.0 1246.0 1827.4 1246.0 C1828.4 1246.0 1829.4 1246.0 1830.4 1246.0 C1833.1 1246.0 1835.8 1256.0 1838.5 1256.0 C1839.5 1256.0 1840.5 1256.0 1841.5 1256.0 C1843.9 1256.0 1846.4 1248.6 1848.8 1248.6 C1849.8 1248.6 1850.8 1248.6 1851.8 1248.6 C1853.7 1248.6 1855.5 1264.6 1857.4 1264.6 C1858.4 1264.6 1859.4 1264.6 1860.4 1264.6 C1863.4 1264.6 1866.4 1251.0 1869.4 1251.0 C1870.4 1251.0 1871.4 1251.0 1872.4 1251.0 C1874.2 1251.0 1876.1 1262.0 1877.9 1262.0 C1878.9 1262.0 1879.9 1262.0 1880.9 1262.0 C1883.2 1262.0 1885.6 1251.0 1887.9 1251.0 C1888.9 1251.0 1889.9 1251.0 1890.9 1251.0 C1893.4 1251.0 1896.0 1266.0 1898.5 1266.0 C1899.5 1266.0 1900.5 1266.0 1901.5 1266.0 C1904.0 1266.0 1906.6 1253.7 1909.1 1253.7 C1910.1 1253.7 1911.1 1253.7 1912.1 1253.7 C1914.6 1253.7 1917.0 1267.7 1919.5 1267.7 C1920.5 1267.7 1921.5 1267.7 1922.5 1267.7 C1925.1 1267.7 1927.6 1256.3 1930.2 1256.3 C1931.2 1256.3 1932.2 1256.3 1933.2 1256.3 C1935.4 1256.3 1937.7 1268.6 1939.9 1268.6 C1940.9 1268.6 1941.9 1268.6 1942.9 1268.6 C1945.4 1268.6 1948.0 1259.8 1950.5 1259.8 C1951.5 1259.8 1952.5 1259.8 1953.5 1259.8 C1955.7 1259.8 1958.0 1271.2 1960.2 1271.2 C1961.2 1271.2 1962.2 1271.2 1963.2 1271.2 C1965.7 1271.2 1968.3 1259.8 1970.8 1259.8 C1971.8 1259.8 1972.8 1259.8 1973.8 1259.8 C1976.3 1259.8 1978.9 1272.0 1981.4 1272.0 C1982.4 1272.0 1983.4 1272.0 1984.4 1272.0 C1986.9 1272.0 1989.5 1262.5 1992.0 1262.5 C1993.0 1262.5 1994.0 1262.5 1995.0 1262.5 C1997.5 1262.5 2000.0 1271.2 2002.5 1271.2 C2003.5 1271.2 2004.5 1271.2 2005.5 1271.2 C2007.7 1271.2 2010.0 1265.0 2012.2 1265.0 C2013.2 1265.0 2014.2 1265.0 2015.2 1265.0 C2017.7 1265.0 2020.3 1274.8 2022.8 1274.8 C2023.8 1274.8 2024.8 1274.8 2025.8 1274.8 C2028.4 1274.8 2030.9 1266.0 2033.5 1266.0 C2034.5 1266.0 2035.5 1266.0 2036.5 1266.0 C2038.7 1266.0 2040.9 1274.8 2043.1 1274.8 C2044.1 1274.8 2045.1 1274.8 2046.1 1274.8 C2048.6 1274.8 2051.0 1268.7 2053.5 1268.7 C2054.5 1268.7 2055.5 1268.7 2056.5 1268.7 C2058.8 1268.7 2061.1 1274.8 2063.4 1274.8 C2064.4 1274.8 2065.4 1274.8 2066.4 1274.8 C2068.9 1274.8 2071.5 1268.7 2074.0 1268.7 C2075.0 1268.7 2076.0 1268.7 2077.0 1268.7 C2079.2 1268.7 2081.5 1277.4 2083.7 1277.4 C2084.7 1277.4 2085.7 1277.4 2086.7 1277.4 C2089.2 1277.4 2091.7 1268.7 2094.2 1268.7 C2095.2 1268.7 2096.2 1268.7 2097.2 1268.7 C2099.4 1268.7 2101.7 1277.4 2103.9 1277.4 C2104.9 1277.4 2105.9 1277.4 2106.9 1277.4 C2109.4 1277.4 2112.0 1271.3 2114.5 1271.3 C2115.5 1271.3 2116.5 1271.3 2117.5 1271.3 C2120.0 1271.3 2122.6 1280.0 2125.1 1280.0 C2126.1 1280.0 2127.1 1280.0 2128.1 1280.0 C2130.9 1280.0 2133.7 1272.2 2136.5 1272.2 C2137.5 1272.2 2138.5 1272.2 2139.5 1272.2 C2141.8 1272.2 2144.0 1280.0 2146.3 1280.0 C2147.3 1280.0 2148.3 1280.0 2149.3 1280.0 C2151.8 1280.0 2154.4 1274.8 2156.9 1274.8 C2157.9 1274.8 2158.9 1274.8 2159.9 1274.8 C2162.4 1274.8 2165.0 1282.7 2167.5 1282.7 C2168.5 1282.7 2169.5 1282.7 2170.5 1282.7 C2173.0 1282.7 2175.5 1274.8 2178.0 1274.8 C2179.0 1274.8 2180.0 1274.8 2181.0 1274.8 C2183.5 1274.8 2186.0 1282.7 2188.5 1282.7 C2189.5 1282.7 2190.5 1282.7 2191.5 1282.7 C2194.1 1282.7 2196.6 1277.5 2199.2 1277.5 C2200.2 1277.5 2201.2 1277.5 2202.2 1277.5 C2204.4 1277.5 2206.7 1283.6 2208.9 1283.6 C2209.9 1283.6 2210.9 1283.6 2211.9 1283.6 C2214.4 1283.6 2217.0 1277.5 2219.5 1277.5 C2220.5 1277.5 2221.5 1277.5 2222.5 1277.5 C2224.7 1277.5 2227.0 1286.2 2229.2 1286.2 C2230.2 1286.2 2231.2 1286.2 2232.2 1286.2 C2235.0 1286.2 2237.7 1280.0 2240.5 1280.0 C2241.5 1280.0 2242.5 1280.0 2243.5 1280.0 C2245.5 1280.0 2247.5 1286.2 2249.5 1286.2 C2250.5 1286.2 2251.5 1286.2 2252.5 1286.2 C2256.3 1286.2 2260.2 1282.7 2264.0 1281.0"/>
<path stroke="#0000E8" stroke-width="8.5" d="M246.0 730.0 C246.3 730.0 246.7 730.0 247.0 730.0 C248.0 730.0 249.1 790.3 250.1 790.3 C251.1 790.3 252.1 790.3 253.1 790.3 C255.6 790.3 258.0 734.6 260.5 734.6 C261.5 734.6 262.5 734.6 263.5 734.6 C266.0 734.6 268.4 802.5 270.9 802.5 C271.9 802.5 272.9 802.5 273.9 802.5 C276.4 802.5 278.9 746.9 281.4 746.9 C282.4 746.9 283.4 746.9 284.4 746.9 C286.9 746.9 289.3 805.6 291.8 805.6 C292.8 805.6 293.8 805.6 294.8 805.6 C297.3 805.6 299.7 759.1 302.2 759.1 C303.2 759.1 304.2 759.1 305.2 759.1 C307.6 759.1 310.1 803.1 312.5 803.1 C313.5 803.1 314.5 803.1 315.5 803.1 C317.8 803.1 320.1 770.7 322.4 770.7 C323.4 770.7 324.4 770.7 325.4 770.7 C328.1 770.7 330.7 814.8 333.4 814.8 C334.4 814.8 335.4 814.8 336.4 814.8 C338.9 814.8 341.3 783.0 343.8 783.0 C344.8 783.0 345.8 783.0 346.8 783.0 C349.3 783.0 351.7 820.9 354.2 820.9 C355.2 820.9 356.2 820.9 357.2 820.9 C359.7 820.9 362.1 794.6 364.6 794.6 C365.6 794.6 366.6 794.6 367.6 794.6 C370.1 794.6 372.5 824.0 375.0 824.0 C376.0 824.0 377.0 824.0 378.0 824.0 C380.7 824.0 383.3 803.8 386.0 803.8 C387.0 803.8 388.0 803.8 389.0 803.8 C391.5 803.8 394.0 827.0 396.5 827.0 C397.5 827.0 398.5 827.0 399.5 827.0 C402.0 827.0 404.4 806.9 406.9 806.9 C407.9 806.9 408.9 806.9 409.9 806.9 C411.6 806.9 413.3 834.5 415.0 835.0 C416.2 835.4 417.3 835.6 418.5 835.6 C419.5 835.6 420.5 835.6 421.5 835.6 C422.7 835.6 423.8 834.1 425.0 834.0 C425.9 833.9 426.8 833.8 427.7 833.8 C428.7 833.8 429.7 833.8 430.7 833.8 C433.0 833.8 435.2 841.1 437.5 841.1 C438.5 841.1 439.5 841.1 440.5 841.1 C443.6 841.1 446.6 827.7 449.7 827.7 C450.7 827.7 451.7 827.7 452.7 827.7 C455.6 827.7 458.4 847.8 461.3 847.8 C462.3 847.8 463.3 847.8 464.3 847.8 C466.2 847.8 468.1 836.7 470.0 836.7 C471.0 836.7 472.0 836.7 473.0 836.7 C476.2 836.7 479.4 856.2 482.6 856.2 C483.6 856.2 484.6 856.2 485.6 856.2 C487.6 856.2 489.7 842.5 491.7 842.5 C492.7 842.5 493.7 842.5 494.7 842.5 C497.5 842.5 500.4 859.7 503.2 859.7 C504.2 859.7 505.2 859.7 506.2 859.7 C508.6 859.7 511.1 842.5 513.5 842.5 C514.5 842.5 515.5 842.5 516.5 842.5 C519.1 842.5 521.8 865.4 524.4 865.4 C525.4 865.4 526.4 865.4 527.4 865.4 C529.5 865.4 531.5 842.5 533.6 842.5 C534.6 842.5 535.6 842.5 536.6 842.5 C539.6 842.5 542.6 868.9 545.6 868.9 C546.6 868.9 547.6 868.9 548.6 868.9 C550.7 868.9 552.7 842.5 554.8 842.5 C555.8 842.5 556.8 842.5 557.8 842.5 C560.6 842.5 563.5 874.6 566.3 874.6 C567.3 874.6 568.3 874.6 569.3 874.6 C571.7 874.6 574.2 854.5 576.6 854.5 C577.6 854.5 578.6 854.5 579.6 854.5 C582.2 854.5 584.9 880.3 587.5 880.3 C588.5 880.3 589.5 880.3 590.5 880.3 C592.5 880.3 594.6 848.2 596.6 848.2 C597.6 848.2 598.6 848.2 599.6 848.2 C601.9 848.2 604.1 880.3 606.4 880.3 C607.4 880.3 608.4 880.3 609.4 880.3 C611.8 880.3 614.3 854.5 616.7 854.5 C617.7 854.5 618.7 854.5 619.7 854.5 C622.5 854.5 625.4 886.6 628.2 886.6 C629.2 886.6 630.2 886.6 631.2 886.6 C633.4 886.6 635.7 854.5 637.9 854.5 C638.9 854.5 639.9 854.5 640.9 854.5 C643.0 854.5 645.0 886.6 647.1 886.6 C648.1 886.6 649.1 886.6 650.1 886.6 C652.9 886.6 655.7 854.5 658.5 854.5 C659.5 854.5 660.5 854.5 661.5 854.5 C664.1 854.5 666.8 892.4 669.4 892.4 C670.4 892.4 671.4 892.4 672.4 892.4 C674.5 892.4 676.5 857.4 678.6 857.4 C679.6 857.4 680.6 857.4 681.6 857.4 C684.6 857.4 687.6 898.7 690.6 898.7 C691.6 898.7 692.6 898.7 693.6 898.7 C695.5 898.7 697.4 860.1 699.3 860.1 C700.3 860.1 701.3 860.1 702.3 860.1 C704.9 860.1 707.5 899.2 710.1 899.2 C711.1 899.2 712.1 899.2 713.1 899.2 C715.7 899.2 718.2 863.1 720.8 863.1 C721.8 863.1 722.8 863.1 723.8 863.1 C726.1 863.1 728.3 902.1 730.6 902.1 C731.6 902.1 732.6 902.1 733.6 902.1 C736.2 902.1 738.8 863.1 741.4 863.1 C742.4 863.1 743.4 863.1 744.4 863.1 C746.7 863.1 748.9 904.1 751.2 904.1 C752.2 904.1 753.2 904.1 754.2 904.1 C757.1 904.1 760.1 860.1 763.0 860.1 C764.0 860.1 765.0 860.1 766.0 860.1 C768.7 860.1 771.3 901.9 774.0 903.0 C775.5 903.6 777.1 904.1 778.6 904.1 C779.6 904.1 780.6 904.1 781.6 904.1 C783.1 904.1 784.5 903.6 786.0 903.0 C788.8 901.8 791.5 877.8 794.3 877.8 C795.3 877.8 796.3 877.8 797.3 877.8 C799.9 877.8 802.5 913.9 805.1 913.9 C806.1 913.9 807.1 913.9 808.1 913.9 C810.0 913.9 812.0 878.8 813.9 878.8 C814.9 878.8 815.9 878.8 816.9 878.8 C819.8 878.8 822.8 915.8 825.7 915.8 C826.7 915.8 827.7 915.8 828.7 915.8 C830.6 915.8 832.6 878.8 834.5 878.8 C835.5 878.8 836.5 878.8 837.5 878.8 C840.1 878.8 842.7 918.8 845.3 918.8 C846.3 918.8 847.3 918.8 848.3 918.8 C850.9 918.8 853.4 874.8 856.0 874.8 C857.0 874.8 858.0 874.8 859.0 874.8 C862.6 874.8 866.2 931.5 869.8 931.5 C870.8 931.5 871.8 931.5 872.8 931.5 C877.0 931.5 881.3 871.9 885.5 871.9 C886.5 871.9 887.5 871.9 888.5 871.9 C890.4 871.9 892.4 911.9 894.3 911.9 C895.3 911.9 896.3 911.9 897.3 911.9 C899.9 911.9 902.4 874.8 905.0 874.8 C906.0 874.8 907.0 874.8 908.0 874.8 C910.6 874.8 913.2 915.8 915.8 915.8 C916.8 915.8 917.8 915.8 918.8 915.8 C921.4 915.8 924.0 880.7 926.6 880.7 C927.6 880.7 928.6 880.7 929.6 880.7 C931.9 880.7 934.1 915.8 936.4 915.8 C937.4 915.8 938.4 915.8 939.4 915.8 C942.0 915.8 944.6 881.7 947.2 881.7 C948.2 881.7 949.2 881.7 950.2 881.7 C952.5 881.7 954.7 915.8 957.0 915.8 C958.0 915.8 959.0 915.8 960.0 915.8 C962.3 915.8 964.5 883.7 966.8 883.7 C967.8 883.7 968.8 883.7 969.8 883.7 C971.2 883.7 972.7 911.9 974.1 911.9 C974.7 911.9 975.4 904.8 976.0 900.0 C977.0 892.4 978.0 883.6 979.0 870.0 C979.7 860.9 980.3 843.3 981.0 830.0 C981.7 816.7 982.3 803.3 983.0 790.0 C983.7 776.7 984.3 760.3 985.0 750.0 C985.7 739.7 986.3 727.8 987.0 725.0 C987.7 722.2 988.3 720.0 989.0 720.0 C989.7 720.0 990.3 722.2 991.0 725.0 C991.7 727.8 992.3 739.7 993.0 750.0 C993.7 760.3 994.3 775.2 995.0 790.0 C995.7 804.8 996.3 823.3 997.0 840.0 C997.7 856.7 998.3 879.8 999.0 890.0 C999.8 902.8 1000.7 917.0 1001.5 917.0 C1003.3 917.0 1005.2 888.0 1007.0 888.0 C1008.0 888.0 1009.0 888.0 1010.0 888.0 C1012.4 888.0 1014.9 906.6 1017.3 906.6 C1018.3 906.6 1019.3 906.6 1020.3 906.6 C1023.2 906.6 1026.2 888.0 1029.1 888.0 C1030.1 888.0 1031.1 888.0 1032.1 888.0 C1034.5 888.0 1037.0 912.5 1039.4 912.5 C1040.4 912.5 1041.4 912.5 1042.4 912.5 C1044.8 912.5 1047.1 891.0 1049.5 891.0 C1050.5 891.0 1051.5 891.0 1052.5 891.0 C1055.0 891.0 1057.5 912.5 1060.0 912.5 C1061.0 912.5 1062.0 912.5 1063.0 912.5 C1065.2 912.5 1067.3 892.0 1069.5 892.0 C1070.5 892.0 1071.5 892.0 1072.5 892.0 C1075.6 892.0 1078.8 911.0 1081.9 911.0 C1082.9 911.0 1083.9 911.0 1084.9 911.0 C1086.6 911.0 1088.3 906.2 1090.0 900.0 C1091.3 895.1 1092.7 877.0 1094.0 860.0 C1095.3 843.0 1096.7 815.0 1098.0 790.0 C1099.0 771.3 1100.0 748.2 1101.0 730.0 C1102.0 711.8 1103.0 694.8 1104.0 680.0 C1105.0 665.2 1106.0 651.4 1107.0 640.0 C1108.0 628.6 1109.0 614.1 1110.0 610.0 C1110.9 606.3 1111.8 603.0 1112.7 603.0 C1115.9 603.0 1119.0 718.0 1122.2 718.0 C1123.2 718.0 1124.2 718.0 1125.2 718.0 C1128.0 718.0 1130.7 593.4 1133.5 593.4 C1134.7 593.4 1135.8 617.6 1137.0 640.0 C1138.0 659.2 1139.0 712.9 1140.0 740.0 C1141.3 776.2 1142.7 830.0 1144.0 830.0 C1145.3 830.0 1146.7 783.7 1148.0 700.0 C1148.5 668.6 1149.0 526.6 1149.5 400.0 C1149.8 315.6 1150.2 117.6 1150.5 70.0 C1151.0 -1.4 1151.5 -60.0 1152.0 -60.0 C1160.0 -60.0 1168.0 -60.0 1176.0 -60.0 C1176.3 -60.0 1176.7 -1.5 1177.0 40.0 C1177.5 102.3 1178.0 207.1 1178.5 300.0 C1179.0 392.9 1179.5 536.4 1180.0 600.0 C1180.5 663.6 1181.0 716.9 1181.5 740.0 C1182.0 763.1 1182.5 786.0 1183.0 786.0 C1184.0 786.0 1185.0 727.6 1186.0 700.0 C1187.0 672.4 1188.0 630.7 1189.0 620.0 C1190.5 603.7 1192.1 591.0 1193.6 591.0 C1194.7 591.0 1195.9 595.8 1197.0 600.0 C1198.7 606.2 1200.3 624.2 1202.0 634.0 C1203.7 643.8 1205.3 651.5 1207.0 660.0 C1209.0 670.2 1211.0 682.6 1213.0 690.0 C1214.3 694.9 1215.7 696.2 1217.0 702.0 C1219.7 713.8 1222.5 782.0 1225.2 782.0 C1226.2 782.0 1227.2 782.0 1228.2 782.0 C1230.0 782.0 1231.7 748.0 1233.5 748.0 C1234.5 748.0 1235.5 748.0 1236.5 748.0 C1239.2 748.0 1241.8 805.0 1244.5 805.0 C1245.5 805.0 1246.5 805.0 1247.5 805.0 C1250.1 805.0 1252.6 774.3 1255.2 774.3 C1256.2 774.3 1257.2 774.3 1258.2 774.3 C1260.6 774.3 1263.1 825.5 1265.5 825.5 C1266.5 825.5 1267.5 825.5 1268.5 825.5 C1270.9 825.5 1273.4 797.5 1275.8 797.5 C1276.8 797.5 1277.8 797.5 1278.8 797.5 C1281.2 797.5 1283.7 834.5 1286.1 834.5 C1287.1 834.5 1288.1 834.5 1289.1 834.5 C1291.5 834.5 1294.0 813.0 1296.4 813.0 C1297.4 813.0 1298.4 813.0 1299.4 813.0 C1301.8 813.0 1304.1 841.0 1306.5 841.0 C1307.5 841.0 1308.5 841.0 1309.5 841.0 C1312.0 841.0 1314.4 819.3 1316.9 819.3 C1317.9 819.3 1318.9 819.3 1319.9 819.3 C1322.3 819.3 1324.8 850.0 1327.2 850.0 C1328.2 850.0 1329.2 850.0 1330.2 850.0 C1332.2 850.0 1334.2 840.0 1336.2 840.0 C1337.2 840.0 1338.2 840.0 1339.2 840.0 C1342.1 840.0 1344.9 865.4 1347.8 865.4 C1348.8 865.4 1349.8 865.4 1350.8 865.4 C1352.4 865.4 1353.9 854.0 1355.5 854.0 C1356.5 854.0 1357.5 854.0 1358.5 854.0 C1361.4 854.0 1364.2 870.5 1367.1 870.5 C1368.1 870.5 1369.1 870.5 1370.1 870.5 C1372.5 870.5 1375.0 863.0 1377.4 863.0 C1378.4 863.0 1379.4 863.0 1380.4 863.0 C1383.3 863.0 1386.1 880.8 1389.0 880.8 C1390.0 880.8 1391.0 880.8 1392.0 880.8 C1394.0 880.8 1396.0 872.0 1398.0 872.0 C1399.0 872.0 1400.0 872.0 1401.0 872.0 C1403.8 872.0 1406.7 886.0 1409.5 886.0 C1410.5 886.0 1411.5 886.0 1412.5 886.0 C1414.9 886.0 1417.4 874.6 1419.8 874.6 C1420.8 874.6 1421.8 874.6 1422.8 874.6 C1425.7 874.6 1428.6 891.0 1431.5 891.0 C1432.5 891.0 1433.5 891.0 1434.5 891.0 C1437.8 891.0 1441.0 876.0 1444.3 876.0 C1445.3 876.0 1446.3 876.0 1447.3 876.0 C1449.3 876.0 1451.3 897.5 1453.3 897.5 C1454.3 897.5 1455.3 897.5 1456.3 897.5 C1458.3 897.5 1460.3 885.0 1462.3 885.0 C1463.3 885.0 1464.3 885.0 1465.3 885.0 C1467.7 885.0 1470.1 901.4 1472.5 901.4 C1473.5 901.4 1474.5 901.4 1475.5 901.4 C1477.6 901.4 1479.8 892.0 1481.9 892.0 C1482.9 892.0 1483.9 892.0 1484.9 892.0 C1487.3 892.0 1489.6 906.5 1492.0 906.5 C1493.0 906.5 1494.0 906.5 1495.0 906.5 C1497.3 906.5 1499.5 897.3 1501.8 897.3 C1502.8 897.3 1503.8 897.3 1504.8 897.3 C1507.9 897.3 1510.9 910.2 1514.0 910.2 C1515.0 910.2 1516.0 910.2 1517.0 910.2 C1519.3 910.2 1521.5 901.0 1523.8 901.0 C1524.8 901.0 1525.8 901.0 1526.8 901.0 C1529.5 901.0 1532.2 912.6 1534.9 912.6 C1535.9 912.6 1536.9 912.6 1537.9 912.6 C1539.8 912.6 1541.6 906.0 1543.5 906.0 C1544.5 906.0 1545.5 906.0 1546.5 906.0 C1549.2 906.0 1551.8 916.3 1554.5 916.3 C1555.5 916.3 1556.5 916.3 1557.5 916.3 C1559.8 916.3 1562.0 912.0 1564.3 912.0 C1565.3 912.0 1566.3 912.0 1567.3 912.0 C1570.0 912.0 1572.6 918.7 1575.3 918.7 C1576.3 918.7 1577.3 918.7 1578.3 918.7 C1580.6 918.7 1582.8 915.7 1585.1 915.7 C1586.1 915.7 1587.1 915.7 1588.1 915.7 C1590.8 915.7 1593.4 921.2 1596.1 921.2 C1597.1 921.2 1598.1 921.2 1599.1 921.2 C1601.4 921.2 1603.7 917.0 1606.0 917.0 C1607.0 917.0 1608.0 917.0 1609.0 917.0 C1611.7 917.0 1614.3 923.6 1617.0 923.6 C1618.0 923.6 1619.0 923.6 1620.0 923.6 C1621.8 923.6 1623.7 921.8 1625.5 921.8 C1626.5 921.8 1627.5 921.8 1628.5 921.8 C1632.1 921.8 1635.7 929.8 1639.3 929.8 C1640.5 929.8 1641.8 928.3 1643.0 925.0 C1643.7 923.2 1644.3 894.1 1645.0 880.0 C1645.7 865.9 1646.3 848.1 1647.0 840.0 C1648.0 827.9 1649.0 818.5 1650.0 815.0 C1651.5 809.7 1653.0 805.5 1654.5 805.5 C1655.7 805.5 1656.8 809.5 1658.0 815.0 C1658.7 818.2 1659.3 829.7 1660.0 840.0 C1660.7 850.3 1661.3 867.6 1662.0 880.0 C1662.7 892.4 1663.3 911.1 1664.0 915.0 C1665.0 920.9 1666.0 924.2 1667.0 925.0 C1670.0 927.4 1673.0 928.3 1676.0 928.5 C1680.0 928.8 1684.0 928.7 1688.0 929.0 C1691.7 929.3 1695.4 932.2 1699.1 932.2 C1700.1 932.2 1701.1 932.2 1702.1 932.2 C1704.4 932.2 1706.6 931.6 1708.9 931.6 C1709.9 931.6 1710.9 931.6 1711.9 931.6 C1714.2 931.6 1716.4 934.7 1718.7 934.7 C1719.7 934.7 1720.7 934.7 1721.7 934.7 C1724.0 934.7 1726.2 934.0 1728.5 934.0 C1729.5 934.0 1730.5 934.0 1731.5 934.0 C1734.6 934.0 1737.7 936.0 1740.8 936.0 C1741.8 936.0 1742.8 936.0 1743.8 936.0 C1746.0 936.0 1748.3 935.3 1750.5 935.3 C1751.5 935.3 1752.5 935.3 1753.5 935.3 C1756.3 935.3 1759.1 936.8 1761.9 937.1 C1765.1 937.5 1768.4 937.6 1771.6 937.8 C1775.7 938.0 1779.9 938.1 1784.0 938.4 C1786.4 938.6 1788.8 938.8 1791.2 939.0 C1795.3 939.3 1799.4 939.3 1803.5 939.6 C1805.9 939.8 1808.4 939.9 1810.8 940.2 C1814.4 940.6 1817.9 942.0 1821.5 942.0 C1822.5 942.0 1823.5 942.0 1824.5 942.0 C1826.8 942.0 1829.2 940.2 1831.5 940.2 C1832.5 940.2 1833.5 940.2 1834.5 940.2 C1837.6 940.2 1840.6 942.0 1843.7 942.0 C1844.7 942.0 1845.7 942.0 1846.7 942.0 C1849.0 942.0 1851.2 941.5 1853.5 941.5 C1854.5 941.5 1855.5 941.5 1856.5 941.5 C1861.0 941.5 1865.5 944.1 1870.0 944.6 C1886.7 946.6 1903.3 947.0 1920.0 948.0 C1938.6 949.1 1957.2 950.1 1975.8 950.8 C1993.9 951.5 2011.9 951.9 2030.0 952.5 C2047.2 953.1 2064.4 953.7 2081.6 954.3 C2099.4 954.9 2117.2 955.4 2135.0 956.0 C2152.5 956.6 2170.0 957.3 2187.5 957.8 C2201.7 958.2 2215.8 958.5 2230.0 958.8 C2241.3 959.1 2252.7 959.3 2264.0 959.6"/>
<path stroke="#FA8200" stroke-width="8.5" d="M246.0 497.0 C246.3 497.3 246.7 497.5 247.0 498.0 C248.5 500.3 249.9 555.0 251.4 555.0 C252.4 555.0 253.4 555.0 254.4 555.0 C257.1 555.0 259.7 506.0 262.4 506.0 C263.4 506.0 264.4 506.0 265.4 506.0 C268.1 506.0 270.7 549.5 273.4 549.5 C274.4 549.5 275.4 549.5 276.4 549.5 C278.5 549.5 280.5 511.6 282.6 511.6 C283.6 511.6 284.6 511.6 285.6 511.6 C288.3 511.6 290.9 555.0 293.6 555.0 C294.6 555.0 295.6 555.0 296.6 555.0 C299.0 555.0 301.3 527.0 303.7 527.0 C304.7 527.0 305.7 527.0 306.7 527.0 C309.1 527.0 311.4 566.0 313.8 566.0 C314.8 566.0 315.8 566.0 316.8 566.0 C319.2 566.0 321.5 542.0 323.9 542.0 C324.9 542.0 325.9 542.0 326.9 542.0 C329.6 542.0 332.3 575.0 335.0 575.0 C336.0 575.0 337.0 575.0 338.0 575.0 C340.4 575.0 342.7 556.6 345.1 556.6 C346.1 556.6 347.1 556.6 348.1 556.6 C350.5 556.6 352.8 572.5 355.2 572.5 C356.2 572.5 357.2 572.5 358.2 572.5 C360.3 572.5 362.3 563.0 364.4 563.0 C365.4 563.0 366.4 563.0 367.4 563.0 C370.4 563.0 373.3 581.6 376.3 581.6 C377.3 581.6 378.3 581.6 379.3 581.6 C381.1 581.6 382.9 577.2 384.7 577.2 C385.7 577.2 386.7 577.2 387.7 577.2 C391.1 577.2 394.5 595.3 397.9 595.3 C398.9 595.3 399.9 595.3 400.9 595.3 C402.8 595.3 404.8 591.7 406.7 591.7 C407.7 591.7 408.7 591.7 409.7 591.7 C411.6 591.7 413.4 600.1 415.3 601.4 C418.2 603.4 421.1 603.7 424.0 605.0 C427.0 606.3 430.0 608.9 433.0 609.4 C435.9 609.9 438.8 609.7 441.7 610.3 C444.1 610.7 446.4 614.9 448.8 616.4 C451.7 618.3 454.7 619.6 457.6 620.8 C460.2 621.9 462.9 622.4 465.5 623.5 C467.6 624.4 469.6 626.8 471.7 627.0 C474.3 627.3 477.0 627.2 479.6 627.5 C482.3 627.8 485.1 639.4 487.8 639.4 C488.8 639.4 489.8 639.4 490.8 639.4 C493.4 639.4 495.9 630.5 498.5 630.5 C499.5 630.5 500.5 630.5 501.5 630.5 C504.6 630.5 507.7 644.7 510.8 644.7 C511.8 644.7 512.8 644.7 513.8 644.7 C515.7 644.7 517.7 639.4 519.6 639.4 C520.6 639.4 521.6 639.4 522.6 639.4 C525.1 639.4 527.7 657.0 530.2 657.0 C531.2 657.0 532.2 657.0 533.2 657.0 C535.4 657.0 537.7 649.0 539.9 649.0 C540.9 649.0 541.9 649.0 542.9 649.0 C545.4 649.0 548.0 665.8 550.5 665.8 C551.5 665.8 552.5 665.8 553.5 665.8 C555.7 665.8 558.0 651.7 560.2 651.7 C561.2 651.7 562.2 651.7 563.2 651.7 C566.0 651.7 568.8 672.0 571.6 672.0 C572.6 672.0 573.6 672.0 574.6 672.0 C576.2 672.0 577.7 658.4 579.3 658.4 C580.3 658.4 581.3 658.4 582.3 658.4 C585.1 658.4 587.8 677.1 590.6 677.1 C591.6 677.1 592.6 677.1 593.6 677.1 C596.4 677.1 599.1 662.6 601.9 662.6 C602.9 662.6 603.9 662.6 604.9 662.6 C606.7 662.6 608.5 678.5 610.3 678.5 C611.3 678.5 612.3 678.5 613.3 678.5 C616.1 678.5 618.8 665.4 621.6 665.4 C622.6 665.4 623.6 665.4 624.6 665.4 C626.9 665.4 629.2 687.0 631.5 687.0 C632.5 687.0 633.5 687.0 634.5 687.0 C637.7 687.0 640.9 664.0 644.1 664.0 C645.1 664.0 646.1 664.0 647.1 664.0 C648.9 664.0 650.8 685.6 652.6 685.6 C653.6 685.6 654.6 685.6 655.6 685.6 C658.4 685.6 661.1 675.3 663.9 675.3 C664.9 675.3 665.9 675.3 666.9 675.3 C669.2 675.3 671.4 695.4 673.7 695.4 C674.7 695.4 675.7 695.4 676.7 695.4 C679.0 695.4 681.2 679.5 683.5 679.5 C684.5 679.5 685.5 679.5 686.5 679.5 C688.3 679.5 690.2 698.3 692.0 698.3 C693.0 698.3 694.0 698.3 695.0 698.3 C697.7 698.3 700.5 678.9 703.2 678.9 C704.2 678.9 705.2 678.9 706.2 678.9 C709.1 678.9 712.1 702.2 715.0 702.2 C716.0 702.2 717.0 702.2 718.0 702.2 C720.3 702.2 722.5 681.8 724.8 681.8 C725.8 681.8 726.8 681.8 727.8 681.8 C730.4 681.8 732.9 705.2 735.5 705.2 C736.5 705.2 737.5 705.2 738.5 705.2 C740.8 705.2 743.0 683.8 745.3 683.8 C746.3 683.8 747.3 683.8 748.3 683.8 C750.6 683.8 752.8 708.1 755.1 708.1 C756.1 708.1 757.1 708.1 758.1 708.1 C760.7 708.1 763.3 677.9 765.9 677.9 C766.9 677.9 767.9 677.9 768.9 677.9 C771.2 677.9 773.4 706.1 775.7 706.1 C776.7 706.1 777.7 706.1 778.7 706.1 C781.3 706.1 783.9 690.6 786.5 690.6 C787.5 690.6 788.5 690.6 789.5 690.6 C791.4 690.6 793.4 696.3 795.3 696.3 C796.3 696.3 797.3 696.3 798.3 696.3 C800.2 696.3 802.2 690.6 804.1 690.6 C805.1 690.6 806.1 690.6 807.1 690.6 C809.4 690.6 811.6 703.2 813.9 703.2 C814.9 703.2 815.9 703.2 816.9 703.2 C819.2 703.2 821.4 699.4 823.7 699.4 C824.7 699.4 825.7 699.4 826.7 699.4 C829.6 699.4 832.6 714.0 835.5 714.0 C836.5 714.0 837.5 714.0 838.5 714.0 C840.4 714.0 842.4 699.4 844.3 699.4 C845.3 699.4 846.3 699.4 847.3 699.4 C850.2 699.4 853.1 720.8 856.0 720.8 C857.0 720.8 858.0 720.8 859.0 720.8 C861.3 720.8 863.5 706.3 865.8 706.3 C866.8 706.3 867.8 706.3 868.8 706.3 C871.1 706.3 873.3 722.8 875.6 722.8 C876.6 722.8 877.6 722.8 878.6 722.8 C881.5 722.8 884.5 699.4 887.4 699.4 C888.4 699.4 889.4 699.4 890.4 699.4 C892.7 699.4 894.9 719.9 897.2 719.9 C898.2 719.9 899.2 719.9 900.2 719.9 C902.5 719.9 904.7 705.3 907.0 705.3 C908.0 705.3 909.0 705.3 910.0 705.3 C912.6 705.3 915.2 722.8 917.8 722.8 C918.8 722.8 919.8 722.8 920.8 722.8 C923.4 722.8 925.9 708.3 928.5 708.3 C929.5 708.3 930.5 708.3 931.5 708.3 C933.8 708.3 936.0 719.9 938.3 719.9 C939.3 719.9 940.3 719.9 941.3 719.9 C943.6 719.9 945.8 708.3 948.1 708.3 C949.1 708.3 950.1 708.3 951.1 708.3 C953.7 708.3 956.3 718.9 958.9 718.9 C959.9 718.9 960.9 718.9 961.9 718.9 C964.3 718.9 966.6 715.1 969.0 714.0 C971.0 713.1 973.0 713.4 975.0 712.0 C976.0 711.3 977.0 707.5 978.0 700.0 C978.3 697.5 978.7 686.7 979.0 680.0 C979.7 666.7 980.3 654.8 981.0 640.0 C981.7 625.2 982.3 606.7 983.0 590.0 C983.7 573.3 984.3 552.5 985.0 540.0 C985.7 527.5 986.3 513.8 987.0 510.0 C987.7 506.2 988.3 503.0 989.0 503.0 C989.7 503.0 990.3 506.2 991.0 510.0 C991.7 513.8 992.3 525.1 993.0 540.0 C993.5 551.2 994.0 581.8 994.5 600.0 C995.0 618.2 995.5 637.3 996.0 650.0 C996.7 666.9 997.3 679.7 998.0 690.0 C998.7 700.3 999.3 711.2 1000.0 715.0 C1001.2 721.6 1002.3 727.0 1003.5 727.0 C1005.4 727.0 1007.2 709.5 1009.1 709.5 C1010.1 709.5 1011.1 709.5 1012.1 709.5 C1014.4 709.5 1016.6 717.0 1018.9 717.0 C1019.9 717.0 1020.9 717.0 1021.9 717.0 C1024.2 717.0 1026.4 713.4 1028.7 713.4 C1029.7 713.4 1030.7 713.4 1031.7 713.4 C1034.0 713.4 1036.2 718.0 1038.5 718.0 C1039.5 718.0 1040.5 718.0 1041.5 718.0 C1044.1 718.0 1046.7 712.4 1049.3 712.4 C1050.3 712.4 1051.3 712.4 1052.3 712.4 C1054.6 712.4 1056.8 718.0 1059.1 718.0 C1060.1 718.0 1061.1 718.0 1062.1 718.0 C1064.7 718.0 1067.3 715.4 1069.9 715.4 C1070.9 715.4 1071.9 715.4 1072.9 715.4 C1076.9 715.4 1081.0 721.0 1085.0 721.0 C1086.3 721.0 1087.7 718.9 1089.0 716.0 C1090.3 713.1 1091.7 698.4 1093.0 680.0 C1094.0 666.2 1095.0 626.7 1096.0 600.0 C1097.0 573.3 1098.0 546.7 1099.0 520.0 C1100.0 493.3 1101.0 462.9 1102.0 440.0 C1103.0 417.1 1104.0 402.4 1105.0 380.0 C1105.7 365.1 1106.3 340.9 1107.0 330.0 C1108.0 313.7 1109.0 300.7 1110.0 295.0 C1110.5 292.2 1111.0 289.0 1111.5 289.0 C1113.7 289.0 1116.0 327.5 1118.2 327.5 C1119.2 327.5 1120.2 327.5 1121.2 327.5 C1123.5 327.5 1125.8 273.7 1128.1 273.7 C1129.1 273.7 1130.1 273.7 1131.1 273.7 C1133.2 273.7 1135.3 402.5 1137.4 402.5 C1138.3 402.5 1139.1 394.7 1140.0 380.0 C1140.5 371.5 1141.0 320.9 1141.5 250.0 C1141.7 226.4 1141.8 136.1 1142.0 120.0 C1142.3 87.8 1142.7 73.5 1143.0 66.0 C1143.7 51.0 1144.3 56.8 1145.0 40.0 C1145.3 31.6 1145.7 -60.0 1146.0 -60.0 C1157.7 -60.0 1169.3 -60.0 1181.0 -60.0 C1181.3 -60.0 1181.7 -20.5 1182.0 40.0 C1182.2 70.2 1182.3 286.4 1182.5 300.0 C1183.2 354.4 1183.8 372.0 1184.5 372.0 C1186.0 372.0 1187.5 307.3 1189.0 290.0 C1190.5 272.7 1192.0 252.0 1193.5 252.0 C1194.3 252.0 1195.2 266.5 1196.0 282.0 C1196.5 290.7 1196.9 322.0 1197.4 330.0 C1198.6 350.6 1199.8 356.3 1201.0 367.0 C1201.8 374.4 1202.7 384.1 1203.5 387.0 C1205.5 394.0 1207.6 392.5 1209.6 399.0 C1210.8 402.9 1212.1 414.4 1213.3 424.0 C1214.5 433.6 1215.8 455.7 1217.0 458.0 C1219.4 462.6 1221.9 462.5 1224.3 465.0 C1226.8 467.5 1229.2 467.8 1231.7 473.0 C1232.9 475.5 1234.1 499.8 1235.3 504.0 C1236.9 509.5 1238.4 514.0 1240.0 514.0 C1241.0 514.0 1242.0 514.0 1243.0 514.0 C1244.4 514.0 1245.9 509.0 1247.3 509.0 C1248.3 509.0 1249.3 509.0 1250.3 509.0 C1251.9 509.0 1253.4 522.0 1255.0 529.0 C1256.2 534.4 1257.4 543.8 1258.6 546.0 C1259.7 548.1 1260.9 550.0 1262.0 550.0 C1263.0 550.0 1264.0 550.0 1265.0 550.0 C1266.5 550.0 1267.9 541.0 1269.4 541.0 C1270.4 541.0 1271.4 541.0 1272.4 541.0 C1273.5 541.0 1274.7 550.3 1275.8 556.0 C1276.9 561.7 1278.1 576.0 1279.2 576.0 C1280.2 576.0 1281.2 576.0 1282.2 576.0 C1283.6 576.0 1285.1 568.0 1286.5 568.0 C1287.5 568.0 1288.5 568.0 1289.5 568.0 C1290.7 568.0 1291.8 570.7 1293.0 573.0 C1294.9 576.8 1296.9 593.0 1298.8 593.0 C1299.8 593.0 1300.8 593.0 1301.8 593.0 C1304.0 593.0 1306.3 578.0 1308.5 578.0 C1309.5 578.0 1310.5 578.0 1311.5 578.0 C1313.5 578.0 1315.5 585.2 1317.5 588.0 C1320.3 591.9 1323.2 595.3 1326.0 598.0 C1328.0 599.9 1330.0 599.9 1332.0 603.0 C1333.4 605.2 1334.8 633.0 1336.2 633.0 C1337.2 633.0 1338.2 633.0 1339.2 633.0 C1342.5 633.0 1345.8 622.6 1349.1 622.6 C1350.1 622.6 1351.1 622.6 1352.1 622.6 C1354.1 622.6 1356.1 649.3 1358.1 649.3 C1359.1 649.3 1360.1 649.3 1361.1 649.3 C1364.0 649.3 1366.8 640.6 1369.7 640.6 C1370.7 640.6 1371.7 640.6 1372.7 640.6 C1375.1 640.6 1377.6 662.0 1380.0 662.0 C1381.0 662.0 1382.0 662.0 1383.0 662.0 C1385.8 662.0 1388.7 652.0 1391.5 652.0 C1392.5 652.0 1393.5 652.0 1394.5 652.0 C1396.5 652.0 1398.5 672.5 1400.5 672.5 C1401.5 672.5 1402.5 672.5 1403.5 672.5 C1406.4 672.5 1409.2 658.6 1412.1 658.6 C1413.1 658.6 1414.1 658.6 1415.1 658.6 C1417.6 658.6 1420.0 679.0 1422.5 679.0 C1423.5 679.0 1424.5 679.0 1425.5 679.0 C1428.3 679.0 1431.2 672.7 1434.0 672.7 C1435.0 672.7 1436.0 672.7 1437.0 672.7 C1441.2 672.7 1445.3 686.6 1449.5 686.6 C1450.5 686.6 1451.5 686.6 1452.5 686.6 C1454.9 686.6 1457.3 676.6 1459.7 676.6 C1460.7 676.6 1461.7 676.6 1462.7 676.6 C1465.6 676.6 1468.4 708.5 1471.3 708.5 C1472.3 708.5 1473.3 708.5 1474.3 708.5 C1476.8 708.5 1479.3 693.0 1481.8 693.0 C1482.8 693.0 1483.8 693.0 1484.8 693.0 C1487.2 693.0 1489.6 712.9 1492.0 712.9 C1493.0 712.9 1494.0 712.9 1495.0 712.9 C1497.3 712.9 1499.5 703.7 1501.8 703.7 C1502.8 703.7 1503.8 703.7 1504.8 703.7 C1507.0 703.7 1509.3 722.7 1511.5 722.7 C1512.5 722.7 1513.5 722.7 1514.5 722.7 C1516.8 722.7 1519.1 713.5 1521.4 713.5 C1522.4 713.5 1523.4 713.5 1524.4 713.5 C1527.1 713.5 1529.7 728.8 1532.4 728.8 C1533.4 728.8 1534.4 728.8 1535.4 728.8 C1537.7 728.8 1539.9 719.6 1542.2 719.6 C1543.2 719.6 1544.2 719.6 1545.2 719.6 C1547.5 719.6 1549.7 736.0 1552.0 736.0 C1553.0 736.0 1554.0 736.0 1555.0 736.0 C1557.7 736.0 1560.4 728.0 1563.1 728.0 C1564.1 728.0 1565.1 728.0 1566.1 728.0 C1568.8 728.0 1571.4 744.7 1574.1 744.7 C1575.1 744.7 1576.1 744.7 1577.1 744.7 C1579.4 744.7 1581.6 736.8 1583.9 736.8 C1584.9 736.8 1585.9 736.8 1586.9 736.8 C1589.2 736.8 1591.4 748.4 1593.7 748.4 C1594.7 748.4 1595.7 748.4 1596.7 748.4 C1599.4 748.4 1602.0 740.5 1604.7 740.5 C1605.7 740.5 1606.7 740.5 1607.7 740.5 C1610.4 740.5 1613.1 750.9 1615.8 750.9 C1616.8 750.9 1617.8 750.9 1618.8 750.9 C1621.0 750.9 1623.3 746.6 1625.5 746.6 C1626.5 746.6 1627.5 746.6 1628.5 746.6 C1631.3 746.6 1634.1 759.4 1636.9 759.4 C1637.9 759.4 1639.0 758.0 1640.0 755.0 C1640.7 753.1 1641.3 715.4 1642.0 700.0 C1642.7 684.6 1643.3 670.8 1644.0 660.0 C1645.0 643.8 1646.0 625.1 1647.0 620.0 C1648.0 614.9 1649.0 610.6 1650.0 610.6 C1651.0 610.6 1652.0 614.9 1653.0 620.0 C1654.0 625.1 1655.0 643.8 1656.0 660.0 C1656.7 670.8 1657.3 687.8 1658.0 700.0 C1659.0 718.3 1660.0 745.4 1661.0 750.0 C1662.0 754.6 1663.0 757.0 1664.0 758.0 C1667.2 761.2 1670.4 762.6 1673.6 763.0 C1677.7 763.5 1681.8 763.3 1685.9 763.8 C1689.9 764.3 1693.9 769.2 1697.9 769.2 C1698.9 769.2 1699.9 769.2 1700.9 769.2 C1702.8 769.2 1704.6 766.2 1706.5 766.2 C1707.5 766.2 1708.5 766.2 1709.5 766.2 C1712.7 766.2 1715.8 771.3 1719.0 771.7 C1721.8 772.1 1724.7 772.0 1727.5 772.3 C1731.6 772.7 1735.7 773.6 1739.8 774.0 C1743.1 774.3 1746.3 774.6 1749.6 774.8 C1752.9 775.0 1756.1 775.0 1759.4 775.4 C1762.2 775.7 1764.9 778.5 1767.7 778.5 C1768.7 778.5 1769.7 778.5 1770.7 778.5 C1773.8 778.5 1776.9 777.8 1780.0 777.8 C1781.0 777.8 1782.0 777.8 1783.0 777.8 C1784.4 777.8 1785.9 781.0 1787.3 781.0 C1788.3 781.0 1789.3 781.0 1790.3 781.0 C1793.4 781.0 1796.4 780.3 1799.5 780.3 C1800.5 780.3 1801.5 780.3 1802.5 780.3 C1804.5 780.3 1806.4 781.8 1808.4 782.0 C1813.3 782.4 1818.1 782.2 1823.0 782.7 C1825.0 782.9 1827.0 784.6 1829.0 784.6 C1830.0 784.6 1831.0 784.6 1832.0 784.6 C1835.1 784.6 1838.1 784.0 1841.2 784.0 C1842.2 784.0 1843.2 784.0 1844.2 784.0 C1847.8 784.0 1851.4 784.3 1855.0 784.6 C1860.0 785.0 1865.0 788.0 1870.0 788.5 C1886.7 790.3 1903.3 790.4 1920.0 791.5 C1938.6 792.7 1957.2 794.6 1975.8 795.6 C1993.9 796.6 2011.9 797.1 2030.0 798.0 C2047.2 798.8 2064.4 799.8 2081.6 800.8 C2099.4 801.8 2117.2 803.0 2135.0 804.0 C2152.5 805.0 2170.0 806.0 2187.5 807.0 C2201.7 807.8 2215.8 808.7 2230.0 809.5 C2241.3 810.2 2252.7 810.8 2264.0 811.5"/>
</g>
<polygon fill="#F28219" points="334.5,120.5 338.5,116.20 477.5,116.20 481.5,120.5 477.5,124.80 338.5,124.80"/>
<text x="492" y="136.7" font-size="81">100 Pa</text>
<polygon fill="#0505DC" points="334.5,221.8 338.5,217.50 477.5,217.50 481.5,221.8 477.5,226.10 338.5,226.10"/>
<text x="492" y="238.5" font-size="81">50 Pa</text>
<polygon fill="#E10C0A" points="334.5,323.4 338.5,319.10 477.5,319.10 481.5,323.4 477.5,327.70 338.5,327.70"/>
<text x="492" y="339.6" font-size="81">30 Pa</text>
<polygon fill="#000000" points="334.5,424.5 338.5,420.20 477.5,420.20 481.5,424.5 477.5,428.80 338.5,428.80"/>
<text x="492" y="440.5" font-size="81">MgO</text>
<text x="886.4 913.7 952.2 991.2 1034.2" y="450" font-size="81">(111)</text>
<text x="1229.7 1255.1 1300 1341.2 1383.5" y="166.4" font-size="81">(200)</text>
<text x="1564.3 1590.7 1632.7 1671.5 1714.8" y="566" font-size="81">(211)</text>
<text x="243.2" y="1486.5" font-size="99" text-anchor="middle">20</text>
<text x="648.2" y="1486.5" font-size="99" text-anchor="middle">30</text>
<text x="1053.7" y="1486.5" font-size="99" text-anchor="middle">40</text>
<text x="1454.9" y="1486.5" font-size="99" text-anchor="middle">50</text>
<text x="1859" y="1486.5" font-size="99" text-anchor="middle">60</text>
<text x="2262.7" y="1486.5" font-size="99" text-anchor="middle">70</text>
<text y="1640" font-size="129"><tspan x="1031">2</tspan><tspan x="1160"> </tspan><tspan x="1190.5">(</tspan><tspan x="1236.2">d</tspan><tspan x="1309.8">e</tspan><tspan x="1367">g</tspan><tspan x="1426.8">)</tspan></text>
<text transform="translate(1094.65,1638) scale(1.231,1)" font-size="117" font-weight="normal" style="font-weight:normal">θ</text>
<text transform="translate(114.5,1171.4) rotate(-90)" y="0" font-size="135"><tspan x="-4.5">I</tspan><tspan x="46.6">n</tspan><tspan x="120.8">t</tspan><tspan x="161.0">e</tspan><tspan x="223.5">n</tspan><tspan x="299.5">s</tspan><tspan x="349.5">i</tspan><tspan x="391.8">t</tspan><tspan x="431.4">y</tspan><tspan x="493.7" font-size="96">(</tspan><tspan x="532.5">a</tspan><tspan x="592.4">.</tspan><tspan x="628.9">u</tspan><tspan x="700.2">.</tspan><tspan x="734.9" font-size="96">)</tspan></text>
</svg>
</body></html>
